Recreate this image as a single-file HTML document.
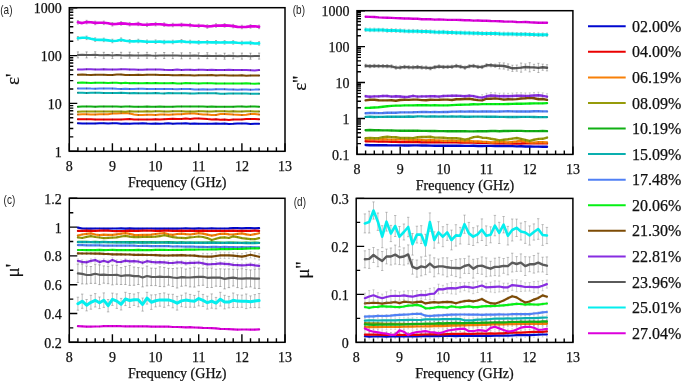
<!DOCTYPE html>
<html><head><meta charset="utf-8"><style>
html,body{margin:0;padding:0;background:#fff;}
svg{display:block;will-change:transform;}
.t{font-family:"Liberation Serif",serif;font-size:14px;fill:#111;stroke:#111;stroke-width:0.25px;}
.s{font-family:"Liberation Sans",sans-serif;font-size:12.6px;fill:#222;}
.yl{font-family:"Liberation Serif",serif;font-size:19px;fill:#111;stroke:#111;stroke-width:0.2px;}
.lg{font-family:"Liberation Serif",serif;font-size:16px;fill:#111;stroke:#111;stroke-width:0.25px;}
</style></head><body>
<svg width="685" height="381" viewBox="0 0 685 381">
<rect width="685" height="381" fill="#fff"/>
<rect x="69.3" y="7.7" width="215.7" height="143.6" fill="none" stroke="#000" stroke-width="1.5"/>
<path d="M69.3,151.3v-8M77.9,151.3v-4M86.6,151.3v-4M95.2,151.3v-4M103.8,151.3v-4M112.4,151.3v-8M121.1,151.3v-4M129.7,151.3v-4M138.3,151.3v-4M147.0,151.3v-4M155.6,151.3v-8M164.2,151.3v-4M172.8,151.3v-4M181.5,151.3v-4M190.1,151.3v-4M198.7,151.3v-8M207.3,151.3v-4M216.0,151.3v-4M224.6,151.3v-4M233.2,151.3v-4M241.9,151.3v-8M250.5,151.3v-4M259.1,151.3v-4M267.7,151.3v-4M276.4,151.3v-4M285.0,151.3v-8" stroke="#000" stroke-width="1.4"/>
<text x="69.3" y="171.3" class="t" text-anchor="middle">8</text>
<text x="112.4" y="171.3" class="t" text-anchor="middle">9</text>
<text x="155.6" y="171.3" class="t" text-anchor="middle">10</text>
<text x="198.7" y="171.3" class="t" text-anchor="middle">11</text>
<text x="241.9" y="171.3" class="t" text-anchor="middle">12</text>
<text x="285.0" y="171.3" class="t" text-anchor="middle">13</text>
<text x="177.2" y="187.3" class="t" text-anchor="middle">Frequency (GHz)</text>
<path d="M69.3,136.9h4M69.3,128.5h4M69.3,122.5h4M69.3,117.8h4M69.3,114.1h4M69.3,110.8h4M69.3,108.1h4M69.3,105.6h4M69.3,89.0h4M69.3,80.6h4M69.3,74.6h4M69.3,70.0h4M69.3,66.2h4M69.3,63.0h4M69.3,60.2h4M69.3,57.8h4M69.3,41.2h4M69.3,32.7h4M69.3,26.7h4M69.3,22.1h4M69.3,18.3h4M69.3,15.1h4M69.3,12.3h4M69.3,9.9h4M69.3,151.3h8M69.3,103.4h8M69.3,55.6h8M69.3,7.7h8" stroke="#000" stroke-width="1.4"/>
<text x="61.8" y="156.8" class="t" text-anchor="end">1</text>
<text x="61.8" y="108.9" class="t" text-anchor="end">10</text>
<text x="61.8" y="61.1" class="t" text-anchor="end">100</text>
<text x="61.8" y="13.2" class="t" text-anchor="end">1000</text>
<polyline points="77.9,123.3 82.2,123.4 86.6,123.4 90.9,123.5 95.2,123.5 99.5,123.2 103.8,123.2 108.1,123.6 112.4,123.3 116.8,123.3 121.1,123.7 125.4,123.5 129.7,123.7 134.0,123.5 138.3,123.6 142.6,123.3 147.0,123.6 151.3,123.7 155.6,123.5 159.9,123.7 164.2,123.6 168.5,123.3 172.8,123.7 177.1,123.6 181.5,123.5 185.8,123.3 190.1,123.8 194.4,123.6 198.7,123.7 203.0,123.8 207.3,123.7 211.7,123.8 216.0,123.6 220.3,123.8 224.6,123.6 228.9,123.9 233.2,123.8 237.5,123.5 241.9,123.5 246.2,123.5 250.5,123.9 254.8,123.7 259.1,123.8" fill="none" stroke="#0008d0" stroke-width="2.0" stroke-linejoin="round" stroke-linecap="round" />
<path d="M77.9,122.4V124.2M86.6,122.5V124.3M95.2,122.6V124.4M103.8,122.3V124.1M112.4,122.4V124.2M121.1,122.8V124.6M129.7,122.8V124.6M138.3,122.7V124.5M147.0,122.7V124.5M155.6,122.6V124.4M164.2,122.7V124.5M172.8,122.8V124.6M181.5,122.6V124.4M190.1,122.9V124.7M198.7,122.8V124.6M207.3,122.8V124.6M216.0,122.7V124.5M224.6,122.7V124.5M233.2,122.9V124.7M241.9,122.6V124.4M250.5,123.0V124.8M259.1,122.9V124.7" stroke="#222" stroke-width="0.9" fill="none" opacity="0.45"/>
<polyline points="77.9,119.2 82.2,119.3 86.6,119.3 90.9,119.3 95.2,119.5 99.5,119.5 103.8,119.6 108.1,119.5 112.4,119.5 116.8,119.4 121.1,119.5 125.4,119.3 129.7,119.1 134.0,119.5 138.3,119.6 142.6,119.6 147.0,119.4 151.3,119.5 155.6,119.2 159.9,119.4 164.2,119.2 168.5,119.0 172.8,118.8 177.1,119.1 181.5,119.1 185.8,118.6 190.1,118.9 194.4,118.6 198.7,118.4 203.0,118.7 207.3,119.1 211.7,119.4 216.0,119.2 220.3,119.7 224.6,119.6 228.9,120.1 233.2,119.6 237.5,119.6 241.9,119.4 246.2,118.9 250.5,118.9 254.8,119.0 259.1,119.3" fill="none" stroke="#ea0000" stroke-width="2.0" stroke-linejoin="round" stroke-linecap="round" />
<path d="M77.9,118.3V120.1M86.6,118.4V120.2M95.2,118.6V120.4M103.8,118.7V120.5M112.4,118.6V120.4M121.1,118.6V120.4M129.7,118.2V120.0M138.3,118.7V120.5M147.0,118.5V120.3M155.6,118.3V120.1M164.2,118.3V120.1M172.8,117.9V119.7M181.5,118.2V120.0M190.1,118.0V119.8M198.7,117.5V119.3M207.3,118.2V120.0M216.0,118.3V120.1M224.6,118.7V120.5M233.2,118.7V120.5M241.9,118.5V120.3M250.5,118.0V119.8M259.1,118.4V120.2" stroke="#222" stroke-width="0.9" fill="none" opacity="0.45"/>
<polyline points="77.9,114.5 82.2,114.3 86.6,114.3 90.9,114.5 95.2,114.6 99.5,114.3 103.8,114.3 108.1,114.3 112.4,113.5 116.8,113.5 121.1,113.2 125.4,113.1 129.7,113.5 134.0,114.4 138.3,115.1 142.6,114.9 147.0,114.8 151.3,114.8 155.6,114.9 159.9,114.6 164.2,114.6 168.5,114.7 172.8,114.5 177.1,114.3 181.5,114.3 185.8,113.8 190.1,113.6 194.4,113.6 198.7,114.1 203.0,114.4 207.3,114.4 211.7,114.9 216.0,114.9 220.3,114.1 224.6,114.1 228.9,114.3 233.2,114.6 237.5,114.7 241.9,115.1 246.2,114.8 250.5,114.1 254.8,114.1 259.1,114.6" fill="none" stroke="#f88008" stroke-width="2.0" stroke-linejoin="round" stroke-linecap="round" />
<path d="M77.9,113.6V115.4M86.6,113.4V115.2M95.2,113.7V115.5M103.8,113.4V115.2M112.4,112.6V114.4M121.1,112.3V114.1M129.7,112.6V114.4M138.3,114.2V116.0M147.0,113.9V115.7M155.6,114.0V115.8M164.2,113.7V115.5M172.8,113.6V115.4M181.5,113.4V115.2M190.1,112.7V114.5M198.7,113.2V115.0M207.3,113.5V115.3M216.0,114.0V115.8M224.6,113.2V115.0M233.2,113.7V115.5M241.9,114.2V116.0M250.5,113.2V115.0M259.1,113.7V115.5" stroke="#222" stroke-width="0.9" fill="none" opacity="0.45"/>
<polyline points="77.9,111.8 82.2,111.5 86.6,111.6 90.9,111.6 95.2,111.5 99.5,111.5 103.8,111.5 108.1,111.5 112.4,111.6 116.8,111.4 121.1,111.5 125.4,111.7 129.7,111.3 134.0,111.5 138.3,111.6 142.6,111.4 147.0,111.3 151.3,111.6 155.6,111.3 159.9,111.3 164.2,111.4 168.5,111.5 172.8,111.2 177.1,111.3 181.5,111.3 185.8,111.6 190.1,111.4 194.4,111.6 198.7,111.2 203.0,111.3 207.3,111.5 211.7,111.6 216.0,111.3 220.3,111.2 224.6,111.2 228.9,111.4 233.2,111.2 237.5,111.5 241.9,111.5 246.2,111.2 250.5,111.2 254.8,111.5 259.1,111.4" fill="none" stroke="#969b0a" stroke-width="2.0" stroke-linejoin="round" stroke-linecap="round" />
<path d="M77.9,110.9V112.7M86.6,110.7V112.5M95.2,110.6V112.4M103.8,110.6V112.4M112.4,110.7V112.5M121.1,110.6V112.4M129.7,110.4V112.2M138.3,110.7V112.5M147.0,110.4V112.2M155.6,110.4V112.2M164.2,110.5V112.3M172.8,110.3V112.1M181.5,110.4V112.2M190.1,110.5V112.3M198.7,110.3V112.1M207.3,110.6V112.4M216.0,110.4V112.2M224.6,110.3V112.1M233.2,110.3V112.1M241.9,110.6V112.4M250.5,110.3V112.1M259.1,110.5V112.3" stroke="#222" stroke-width="0.9" fill="none" opacity="0.45"/>
<polyline points="77.9,106.8 82.2,106.5 86.6,106.4 90.9,106.5 95.2,106.7 99.5,106.5 103.8,106.5 108.1,106.6 112.4,106.6 116.8,106.6 121.1,106.8 125.4,106.4 129.7,106.4 134.0,106.8 138.3,106.8 142.6,106.8 147.0,106.6 151.3,106.8 155.6,106.8 159.9,106.5 164.2,106.7 168.5,106.8 172.8,106.7 177.1,106.6 181.5,106.5 185.8,106.5 190.1,106.5 194.4,106.4 198.7,106.6 203.0,106.5 207.3,106.8 211.7,106.4 216.0,106.8 220.3,106.7 224.6,106.8 228.9,106.8 233.2,106.8 237.5,106.6 241.9,106.4 246.2,106.7 250.5,106.4 254.8,106.5 259.1,106.7" fill="none" stroke="#10b014" stroke-width="2.0" stroke-linejoin="round" stroke-linecap="round" />
<path d="M77.9,105.9V107.7M86.6,105.5V107.3M95.2,105.8V107.6M103.8,105.6V107.4M112.4,105.7V107.5M121.1,105.9V107.7M129.7,105.5V107.3M138.3,105.9V107.7M147.0,105.7V107.5M155.6,105.9V107.7M164.2,105.8V107.6M172.8,105.8V107.6M181.5,105.6V107.4M190.1,105.6V107.4M198.7,105.7V107.5M207.3,105.9V107.7M216.0,105.9V107.7M224.6,105.9V107.7M233.2,105.9V107.7M241.9,105.5V107.3M250.5,105.5V107.3M259.1,105.8V107.6" stroke="#222" stroke-width="0.9" fill="none" opacity="0.45"/>
<polyline points="77.9,92.7 82.2,92.7 86.6,93.0 90.9,92.8 95.2,92.7 99.5,92.7 103.8,93.0 108.1,92.9 112.4,93.1 116.8,92.9 121.1,92.8 125.4,93.0 129.7,93.2 134.0,92.9 138.3,93.2 142.6,93.3 147.0,93.3 151.3,93.3 155.6,92.9 159.9,93.3 164.2,93.4 168.5,93.0 172.8,93.2 177.1,93.2 181.5,93.3 185.8,93.3 190.1,93.4 194.4,93.5 198.7,93.2 203.0,93.2 207.3,93.3 211.7,93.3 216.0,93.3 220.3,93.8 224.6,93.8 228.9,93.4 233.2,93.6 237.5,93.6 241.9,93.6 246.2,93.6 250.5,93.8 254.8,93.8 259.1,93.7" fill="none" stroke="#0aafaf" stroke-width="2.0" stroke-linejoin="round" stroke-linecap="round" />
<path d="M77.9,91.8V93.6M86.6,92.1V93.9M95.2,91.8V93.6M103.8,92.1V93.9M112.4,92.2V94.0M121.1,91.9V93.7M129.7,92.3V94.1M138.3,92.3V94.1M147.0,92.4V94.2M155.6,92.0V93.8M164.2,92.5V94.3M172.8,92.3V94.1M181.5,92.4V94.2M190.1,92.5V94.3M198.7,92.3V94.1M207.3,92.4V94.2M216.0,92.4V94.2M224.6,92.9V94.7M233.2,92.7V94.5M241.9,92.7V94.5M250.5,92.9V94.7M259.1,92.8V94.6" stroke="#222" stroke-width="0.9" fill="none" opacity="0.45"/>
<polyline points="77.9,88.4 82.2,88.4 86.6,88.4 90.9,88.6 95.2,88.7 99.5,88.6 103.8,88.5 108.1,88.5 112.4,88.6 116.8,88.8 121.1,88.9 125.4,88.7 129.7,89.0 134.0,88.9 138.3,88.8 142.6,88.8 147.0,88.9 151.3,89.0 155.6,88.9 159.9,89.1 164.2,89.0 168.5,88.9 172.8,89.1 177.1,89.2 181.5,88.9 185.8,89.1 190.1,89.1 194.4,89.4 198.7,89.4 203.0,89.2 207.3,89.5 211.7,89.5 216.0,89.2 220.3,89.3 224.6,89.2 228.9,89.6 233.2,89.5 237.5,89.7 241.9,89.6 246.2,89.6 250.5,89.7 254.8,89.6 259.1,89.4" fill="none" stroke="#5080f5" stroke-width="2.0" stroke-linejoin="round" stroke-linecap="round" />
<path d="M77.9,87.5V89.3M86.6,87.5V89.3M95.2,87.8V89.6M103.8,87.6V89.4M112.4,87.7V89.5M121.1,88.0V89.8M129.7,88.1V89.9M138.3,87.9V89.7M147.0,88.0V89.8M155.6,88.0V89.8M164.2,88.1V89.9M172.8,88.2V90.0M181.5,88.0V89.8M190.1,88.2V90.0M198.7,88.5V90.3M207.3,88.6V90.4M216.0,88.3V90.1M224.6,88.3V90.1M233.2,88.6V90.4M241.9,88.7V90.5M250.5,88.8V90.6M259.1,88.5V90.3" stroke="#222" stroke-width="0.9" fill="none" opacity="0.45"/>
<polyline points="77.9,82.8 82.2,82.6 86.6,82.7 90.9,83.0 95.2,82.7 99.5,82.7 103.8,82.7 108.1,83.1 112.4,82.8 116.8,82.7 121.1,83.2 125.4,82.8 129.7,83.2 134.0,83.1 138.3,83.2 142.6,83.3 147.0,83.1 151.3,83.3 155.6,82.9 159.9,83.3 164.2,83.2 168.5,83.3 172.8,83.0 177.1,83.4 181.5,83.5 185.8,83.1 190.1,83.2 194.4,83.3 198.7,83.5 203.0,83.2 207.3,83.2 211.7,83.3 216.0,83.5 220.3,83.6 224.6,83.4 228.9,83.4 233.2,83.4 237.5,83.4 241.9,83.5 246.2,83.3 250.5,83.6 254.8,83.8 259.1,83.6" fill="none" stroke="#05f014" stroke-width="2.0" stroke-linejoin="round" stroke-linecap="round" />
<path d="M77.9,81.9V83.7M86.6,81.8V83.6M95.2,81.8V83.6M103.8,81.8V83.6M112.4,81.9V83.7M121.1,82.3V84.1M129.7,82.3V84.1M138.3,82.3V84.1M147.0,82.2V84.0M155.6,82.0V83.8M164.2,82.3V84.1M172.8,82.1V83.9M181.5,82.6V84.4M190.1,82.3V84.1M198.7,82.6V84.4M207.3,82.3V84.1M216.0,82.6V84.4M224.6,82.5V84.3M233.2,82.5V84.3M241.9,82.6V84.4M250.5,82.7V84.5M259.1,82.7V84.5" stroke="#222" stroke-width="0.9" fill="none" opacity="0.45"/>
<polyline points="77.9,74.8 82.2,74.5 86.6,74.8 90.9,74.9 95.2,74.8 99.5,74.8 103.8,74.8 108.1,74.9 112.4,75.0 116.8,74.6 121.1,74.6 125.4,75.0 129.7,75.1 134.0,74.9 138.3,74.8 142.6,75.0 147.0,74.7 151.3,74.8 155.6,74.8 159.9,75.0 164.2,74.9 168.5,74.9 172.8,75.2 177.1,75.3 181.5,75.0 185.8,75.3 190.1,75.2 194.4,75.4 198.7,75.3 203.0,75.2 207.3,75.2 211.7,75.1 216.0,75.4 220.3,75.3 224.6,75.3 228.9,75.4 233.2,75.4 237.5,75.6 241.9,75.3 246.2,75.8 250.5,75.5 254.8,75.6 259.1,75.6" fill="none" stroke="#7d4b05" stroke-width="2.0" stroke-linejoin="round" stroke-linecap="round" />
<path d="M77.9,73.9V75.7M86.6,73.9V75.7M95.2,73.9V75.7M103.8,73.9V75.7M112.4,74.1V75.9M121.1,73.7V75.5M129.7,74.2V76.0M138.3,73.9V75.7M147.0,73.8V75.6M155.6,73.9V75.7M164.2,74.0V75.8M172.8,74.3V76.1M181.5,74.1V75.9M190.1,74.3V76.1M198.7,74.4V76.2M207.3,74.3V76.1M216.0,74.5V76.3M224.6,74.4V76.2M233.2,74.5V76.3M241.9,74.4V76.2M250.5,74.6V76.4M259.1,74.7V76.5" stroke="#222" stroke-width="0.9" fill="none" opacity="0.45"/>
<polyline points="77.9,69.4 82.2,69.4 86.6,69.3 90.9,69.3 95.2,69.4 99.5,69.5 103.8,69.3 108.1,69.5 112.4,69.6 116.8,69.4 121.1,69.3 125.4,69.3 129.7,69.6 134.0,69.6 138.3,69.8 142.6,69.7 147.0,69.5 151.3,69.5 155.6,69.5 159.9,69.5 164.2,69.8 168.5,69.9 172.8,69.9 177.1,69.6 181.5,70.0 185.8,69.7 190.1,69.8 194.4,70.0 198.7,69.7 203.0,69.7 207.3,70.1 211.7,69.8 216.0,69.9 220.3,70.0 224.6,70.1 228.9,69.8 233.2,70.0 237.5,70.0 241.9,70.1 246.2,70.0 250.5,70.2 254.8,70.4 259.1,70.1" fill="none" stroke="#872de1" stroke-width="2.0" stroke-linejoin="round" stroke-linecap="round" />
<path d="M77.9,68.5V70.3M86.6,68.4V70.2M95.2,68.5V70.3M103.8,68.4V70.2M112.4,68.7V70.5M121.1,68.4V70.2M129.7,68.7V70.5M138.3,68.9V70.7M147.0,68.6V70.4M155.6,68.6V70.4M164.2,68.9V70.7M172.8,69.0V70.8M181.5,69.1V70.9M190.1,68.9V70.7M198.7,68.8V70.6M207.3,69.2V71.0M216.0,69.0V70.8M224.6,69.2V71.0M233.2,69.1V70.9M241.9,69.2V71.0M250.5,69.3V71.1M259.1,69.2V71.0" stroke="#222" stroke-width="0.9" fill="none" opacity="0.45"/>
<path d="M77.9,51.9V57.9M76.8,51.9h2.2M76.8,57.9h2.2M86.6,51.9V57.9M85.5,51.9h2.2M85.5,57.9h2.2M95.2,51.8V57.8M94.1,51.8h2.2M94.1,57.8h2.2M103.8,52.3V58.3M102.7,52.3h2.2M102.7,58.3h2.2M112.4,52.4V58.4M111.3,52.4h2.2M111.3,58.4h2.2M121.1,52.3V58.3M120.0,52.3h2.2M120.0,58.3h2.2M129.7,52.2V58.2M128.6,52.2h2.2M128.6,58.2h2.2M138.3,52.4V58.4M137.2,52.4h2.2M137.2,58.4h2.2M147.0,52.3V58.3M145.9,52.3h2.2M145.9,58.3h2.2M155.6,52.7V58.7M154.5,52.7h2.2M154.5,58.7h2.2M164.2,52.5V58.5M163.1,52.5h2.2M163.1,58.5h2.2M172.8,52.6V58.6M171.7,52.6h2.2M171.7,58.6h2.2M181.5,52.8V58.8M180.4,52.8h2.2M180.4,58.8h2.2M190.1,52.7V58.7M189.0,52.7h2.2M189.0,58.7h2.2M198.7,52.8V58.8M197.6,52.8h2.2M197.6,58.8h2.2M207.3,52.7V58.7M206.2,52.7h2.2M206.2,58.7h2.2M216.0,53.0V59.0M214.9,53.0h2.2M214.9,59.0h2.2M224.6,53.2V59.2M223.5,53.2h2.2M223.5,59.2h2.2M233.2,52.9V58.9M232.1,52.9h2.2M232.1,58.9h2.2M241.9,53.1V59.1M240.8,53.1h2.2M240.8,59.1h2.2M250.5,53.2V59.2M249.4,53.2h2.2M249.4,59.2h2.2M259.1,53.1V59.1M258.0,53.1h2.2M258.0,59.1h2.2" stroke="#444" stroke-width="0.6" fill="none" opacity="0.7"/>
<polyline points="77.9,54.9 82.2,54.7 86.6,54.9 90.9,55.1 95.2,54.8 99.5,55.3 103.8,55.3 108.1,54.9 112.4,55.4 116.8,55.1 121.1,55.3 125.4,55.4 129.7,55.2 134.0,55.4 138.3,55.4 142.6,55.5 147.0,55.3 151.3,55.6 155.6,55.7 159.9,55.6 164.2,55.5 168.5,55.4 172.8,55.6 177.1,55.5 181.5,55.8 185.8,55.8 190.1,55.7 194.4,55.6 198.7,55.8 203.0,55.9 207.3,55.7 211.7,56.1 216.0,56.0 220.3,55.7 224.6,56.2 228.9,55.8 233.2,55.9 237.5,56.2 241.9,56.1 246.2,56.1 250.5,56.2 254.8,56.1 259.1,56.1" fill="none" stroke="#5a5a5a" stroke-width="2.0" stroke-linejoin="round" stroke-linecap="round" />
<path d="M77.9,36.5V40.1M76.9,36.5h2.0M76.9,40.1h2.0M86.6,36.0V39.6M85.6,36.0h2.0M85.6,39.6h2.0M95.2,37.8V41.4M94.2,37.8h2.0M94.2,41.4h2.0M103.8,38.1V41.7M102.8,38.1h2.0M102.8,41.7h2.0M112.4,39.2V42.8M111.4,39.2h2.0M111.4,42.8h2.0M121.1,37.9V41.5M120.1,37.9h2.0M120.1,41.5h2.0M129.7,39.5V43.1M128.7,39.5h2.0M128.7,43.1h2.0M138.3,39.2V42.8M137.3,39.2h2.0M137.3,42.8h2.0M147.0,40.0V43.6M146.0,40.0h2.0M146.0,43.6h2.0M155.6,39.9V43.5M154.6,39.9h2.0M154.6,43.5h2.0M164.2,40.3V43.9M163.2,40.3h2.0M163.2,43.9h2.0M172.8,40.2V43.8M171.8,40.2h2.0M171.8,43.8h2.0M181.5,39.5V43.1M180.5,39.5h2.0M180.5,43.1h2.0M190.1,40.2V43.8M189.1,40.2h2.0M189.1,43.8h2.0M198.7,40.6V44.2M197.7,40.6h2.0M197.7,44.2h2.0M207.3,40.5V44.1M206.3,40.5h2.0M206.3,44.1h2.0M216.0,40.5V44.1M215.0,40.5h2.0M215.0,44.1h2.0M224.6,40.6V44.2M223.6,40.6h2.0M223.6,44.2h2.0M233.2,40.6V44.2M232.2,40.6h2.0M232.2,44.2h2.0M241.9,41.2V44.8M240.9,41.2h2.0M240.9,44.8h2.0M250.5,41.1V44.7M249.5,41.1h2.0M249.5,44.7h2.0M259.1,41.6V45.2M258.1,41.6h2.0M258.1,45.2h2.0" stroke="#444" stroke-width="0.6" fill="none" opacity="0.6"/>
<polyline points="77.9,38.3 82.2,37.8 86.6,37.8 90.9,38.8 95.2,39.6 99.5,39.9 103.8,39.9 108.1,40.4 112.4,41.0 116.8,40.7 121.1,39.7 125.4,40.8 129.7,41.3 134.0,41.4 138.3,41.0 142.6,41.4 147.0,41.8 151.3,41.7 155.6,41.7 159.9,41.6 164.2,42.1 168.5,41.8 172.8,42.0 177.1,41.6 181.5,41.3 185.8,41.9 190.1,42.0 194.4,42.1 198.7,42.4 203.0,42.3 207.3,42.3 211.7,42.4 216.0,42.3 220.3,42.5 224.6,42.4 228.9,42.5 233.2,42.4 237.5,42.8 241.9,43.0 246.2,42.8 250.5,42.9 254.8,43.5 259.1,43.4" fill="none" stroke="#05eeee" stroke-width="2.6" stroke-linejoin="round" stroke-linecap="round" />
<path d="M77.9,20.5V24.1M76.9,20.5h2.0M76.9,24.1h2.0M86.6,20.3V23.9M85.6,20.3h2.0M85.6,23.9h2.0M95.2,21.1V24.7M94.2,21.1h2.0M94.2,24.7h2.0M103.8,21.0V24.6M102.8,21.0h2.0M102.8,24.6h2.0M112.4,22.5V26.1M111.4,22.5h2.0M111.4,26.1h2.0M121.1,21.6V25.2M120.1,21.6h2.0M120.1,25.2h2.0M129.7,22.4V26.0M128.7,22.4h2.0M128.7,26.0h2.0M138.3,22.1V25.7M137.3,22.1h2.0M137.3,25.7h2.0M147.0,23.0V26.6M146.0,23.0h2.0M146.0,26.6h2.0M155.6,22.4V26.0M154.6,22.4h2.0M154.6,26.0h2.0M164.2,22.8V26.4M163.2,22.8h2.0M163.2,26.4h2.0M172.8,23.2V26.8M171.8,23.2h2.0M171.8,26.8h2.0M181.5,23.1V26.7M180.5,23.1h2.0M180.5,26.7h2.0M190.1,23.4V27.0M189.1,23.4h2.0M189.1,27.0h2.0M198.7,24.0V27.6M197.7,24.0h2.0M197.7,27.6h2.0M207.3,24.7V28.3M206.3,24.7h2.0M206.3,28.3h2.0M216.0,23.7V27.3M215.0,23.7h2.0M215.0,27.3h2.0M224.6,23.6V27.2M223.6,23.6h2.0M223.6,27.2h2.0M233.2,24.3V27.9M232.2,24.3h2.0M232.2,27.9h2.0M241.9,25.2V28.8M240.9,25.2h2.0M240.9,28.8h2.0M250.5,24.6V28.2M249.5,24.6h2.0M249.5,28.2h2.0M259.1,25.1V28.7M258.1,25.1h2.0M258.1,28.7h2.0" stroke="#444" stroke-width="0.6" fill="none" opacity="0.6"/>
<polyline points="77.9,22.3 82.2,23.1 86.6,22.1 90.9,22.2 95.2,22.9 99.5,22.8 103.8,22.8 108.1,23.2 112.4,24.3 116.8,23.9 121.1,23.4 125.4,23.6 129.7,24.2 134.0,24.3 138.3,23.9 142.6,24.7 147.0,24.8 151.3,24.4 155.6,24.2 159.9,24.3 164.2,24.6 168.5,25.2 172.8,25.0 177.1,25.0 181.5,24.9 185.8,25.0 190.1,25.2 194.4,25.7 198.7,25.8 203.0,25.7 207.3,26.5 211.7,26.1 216.0,25.5 220.3,25.6 224.6,25.4 228.9,25.6 233.2,26.1 237.5,26.9 241.9,27.0 246.2,26.9 250.5,26.4 254.8,26.3 259.1,26.9" fill="none" stroke="#dc00dc" stroke-width="2.6" stroke-linejoin="round" stroke-linecap="round" />
<rect x="357.0" y="10.7" width="215.9" height="143.7" fill="none" stroke="#000" stroke-width="1.5"/>
<path d="M357.0,154.4v-8M365.6,154.4v-4M374.3,154.4v-4M382.9,154.4v-4M391.5,154.4v-4M400.2,154.4v-8M408.8,154.4v-4M417.5,154.4v-4M426.1,154.4v-4M434.7,154.4v-4M443.4,154.4v-8M452.0,154.4v-4M460.6,154.4v-4M469.3,154.4v-4M477.9,154.4v-4M486.5,154.4v-8M495.2,154.4v-4M503.8,154.4v-4M512.4,154.4v-4M521.1,154.4v-4M529.7,154.4v-8M538.4,154.4v-4M547.0,154.4v-4M555.6,154.4v-4M564.3,154.4v-4M572.9,154.4v-8" stroke="#000" stroke-width="1.4"/>
<text x="357.0" y="174.4" class="t" text-anchor="middle">8</text>
<text x="400.2" y="174.4" class="t" text-anchor="middle">9</text>
<text x="443.4" y="174.4" class="t" text-anchor="middle">10</text>
<text x="486.5" y="174.4" class="t" text-anchor="middle">11</text>
<text x="529.7" y="174.4" class="t" text-anchor="middle">12</text>
<text x="572.9" y="174.4" class="t" text-anchor="middle">13</text>
<text x="464.9" y="190.4" class="t" text-anchor="middle">Frequency (GHz)</text>
<path d="M357.0,143.6h4M357.0,137.3h4M357.0,132.8h4M357.0,129.3h4M357.0,126.4h4M357.0,124.0h4M357.0,122.0h4M357.0,120.1h4M357.0,107.7h4M357.0,101.3h4M357.0,96.8h4M357.0,93.4h4M357.0,90.5h4M357.0,88.1h4M357.0,86.0h4M357.0,84.2h4M357.0,71.7h4M357.0,65.4h4M357.0,60.9h4M357.0,57.4h4M357.0,54.6h4M357.0,52.2h4M357.0,50.1h4M357.0,48.3h4M357.0,35.8h4M357.0,29.5h4M357.0,25.0h4M357.0,21.5h4M357.0,18.7h4M357.0,16.3h4M357.0,14.2h4M357.0,12.3h4M357.0,154.4h8M357.0,118.5h8M357.0,82.5h8M357.0,46.6h8M357.0,10.7h8" stroke="#000" stroke-width="1.4"/>
<text x="349.5" y="159.9" class="t" text-anchor="end">0.1</text>
<text x="349.5" y="124.0" class="t" text-anchor="end">1</text>
<text x="349.5" y="88.0" class="t" text-anchor="end">10</text>
<text x="349.5" y="52.1" class="t" text-anchor="end">100</text>
<text x="349.5" y="16.2" class="t" text-anchor="end">1000</text>
<polyline points="365.6,145.0 370.0,145.2 374.3,145.2 378.6,145.2 382.9,145.1 387.2,145.3 391.5,145.4 395.9,145.4 400.2,145.4 404.5,145.5 408.8,145.5 413.1,145.4 417.5,145.4 421.8,145.5 426.1,145.5 430.4,145.6 434.7,145.7 439.0,145.8 443.4,145.8 447.7,145.7 452.0,145.8 456.3,145.8 460.6,145.8 464.9,145.9 469.3,145.9 473.6,145.8 477.9,146.0 482.2,146.0 486.5,145.9 490.9,145.9 495.2,146.0 499.5,146.0 503.8,146.0 508.1,146.0 512.4,146.1 516.8,146.4 521.1,146.3 525.4,146.5 529.7,146.5 534.0,146.6 538.4,146.6 542.7,146.8 547.0,146.8" fill="none" stroke="#0008d0" stroke-width="2.4" stroke-linejoin="round" stroke-linecap="round" />
<path d="M365.6,144.1V145.9M370.0,144.3V146.1M374.3,144.3V146.1M378.6,144.3V146.1M382.9,144.2V146.0M387.2,144.4V146.2M391.5,144.5V146.3M395.9,144.5V146.3M400.2,144.5V146.3M404.5,144.6V146.4M408.8,144.6V146.4M413.1,144.5V146.3M417.5,144.5V146.3M421.8,144.6V146.4M426.1,144.6V146.4M430.4,144.7V146.5M434.7,144.8V146.6M439.0,144.9V146.7M443.4,144.9V146.7M447.7,144.8V146.6M452.0,144.9V146.7M456.3,144.9V146.7M460.6,144.9V146.7M464.9,145.0V146.8M469.3,145.0V146.8M473.6,144.9V146.7M477.9,145.1V146.9M482.2,145.1V146.9M486.5,145.0V146.8M490.9,145.0V146.8M495.2,145.1V146.9M499.5,145.1V146.9M503.8,145.1V146.9M508.1,145.1V146.9M512.4,145.2V147.0M516.8,145.5V147.3M521.1,145.4V147.2M525.4,145.6V147.4M529.7,145.6V147.4M534.0,145.7V147.5M538.4,145.7V147.5M542.7,145.9V147.7M547.0,145.9V147.7" stroke="#222" stroke-width="0.9" fill="none" opacity="0.25"/>
<polyline points="365.6,141.3 370.0,141.4 374.3,141.4 378.6,141.6 382.9,141.5 387.2,141.6 391.5,141.8 395.9,141.8 400.2,142.0 404.5,141.8 408.8,142.0 413.1,142.1 417.5,142.0 421.8,142.4 426.1,142.2 430.4,142.1 434.7,142.3 439.0,142.2 443.4,142.4 447.7,142.3 452.0,142.3 456.3,142.3 460.6,142.5 464.9,142.4 469.3,142.6 473.6,142.6 477.9,142.9 482.2,142.8 486.5,142.9 490.9,143.1 495.2,143.3 499.5,143.4 503.8,143.4 508.1,143.3 512.4,143.5 516.8,143.6 521.1,143.5 525.4,143.3 529.7,143.3 534.0,143.3 538.4,143.4 542.7,143.4 547.0,143.4" fill="none" stroke="#ea0000" stroke-width="2.4" stroke-linejoin="round" stroke-linecap="round" />
<path d="M365.6,140.4V142.2M370.0,140.5V142.3M374.3,140.5V142.3M378.6,140.7V142.5M382.9,140.6V142.4M387.2,140.7V142.5M391.5,140.9V142.7M395.9,140.9V142.7M400.2,141.1V142.9M404.5,140.9V142.7M408.8,141.1V142.9M413.1,141.2V143.0M417.5,141.1V142.9M421.8,141.5V143.3M426.1,141.3V143.1M430.4,141.2V143.0M434.7,141.4V143.2M439.0,141.3V143.1M443.4,141.5V143.3M447.7,141.4V143.2M452.0,141.4V143.2M456.3,141.4V143.2M460.6,141.6V143.4M464.9,141.5V143.3M469.3,141.7V143.5M473.6,141.7V143.5M477.9,142.0V143.8M482.2,141.9V143.7M486.5,142.0V143.8M490.9,142.2V144.0M495.2,142.4V144.2M499.5,142.5V144.3M503.8,142.5V144.3M508.1,142.4V144.2M512.4,142.6V144.4M516.8,142.7V144.5M521.1,142.6V144.4M525.4,142.4V144.2M529.7,142.4V144.2M534.0,142.4V144.2M538.4,142.5V144.3M542.7,142.5V144.3M547.0,142.5V144.3" stroke="#222" stroke-width="0.9" fill="none" opacity="0.25"/>
<polyline points="365.6,139.0 370.0,139.3 374.3,138.8 378.6,139.4 382.9,139.1 387.2,139.4 391.5,139.6 395.9,139.6 400.2,139.1 404.5,139.4 408.8,139.7 413.1,140.1 417.5,139.6 421.8,139.9 426.1,140.4 430.4,140.0 434.7,140.3 439.0,140.4 443.4,140.7 447.7,140.9 452.0,140.5 456.3,140.9 460.6,141.0 464.9,141.2 469.3,141.0 473.6,141.5 477.9,141.4 482.2,141.7 486.5,141.9 490.9,142.5 495.2,142.3 499.5,142.1 503.8,142.1 508.1,142.5 512.4,142.0 516.8,141.5 521.1,140.8 525.4,141.7 529.7,142.2 534.0,142.6 538.4,142.1 542.7,142.3 547.0,142.5" fill="none" stroke="#f88008" stroke-width="2.4" stroke-linejoin="round" stroke-linecap="round" />
<path d="M365.6,138.1V139.9M370.0,138.4V140.2M374.3,137.9V139.7M378.6,138.5V140.3M382.9,138.2V140.0M387.2,138.5V140.3M391.5,138.7V140.5M395.9,138.7V140.5M400.2,138.2V140.0M404.5,138.5V140.3M408.8,138.8V140.6M413.1,139.2V141.0M417.5,138.7V140.5M421.8,139.0V140.8M426.1,139.5V141.3M430.4,139.1V140.9M434.7,139.4V141.2M439.0,139.5V141.3M443.4,139.8V141.6M447.7,140.0V141.8M452.0,139.6V141.4M456.3,140.0V141.8M460.6,140.1V141.9M464.9,140.3V142.1M469.3,140.1V141.9M473.6,140.6V142.4M477.9,140.5V142.3M482.2,140.8V142.6M486.5,141.0V142.8M490.9,141.6V143.4M495.2,141.4V143.2M499.5,141.2V143.0M503.8,141.2V143.0M508.1,141.6V143.4M512.4,141.1V142.9M516.8,140.6V142.4M521.1,139.9V141.7M525.4,140.8V142.6M529.7,141.3V143.1M534.0,141.7V143.5M538.4,141.2V143.0M542.7,141.4V143.2M547.0,141.6V143.4" stroke="#222" stroke-width="0.9" fill="none" opacity="0.25"/>
<polyline points="365.6,138.1 370.0,137.9 374.3,138.2 378.6,138.2 382.9,137.1 387.2,136.8 391.5,137.1 395.9,137.2 400.2,137.9 404.5,138.0 408.8,138.0 413.1,138.1 417.5,137.3 421.8,137.0 426.1,137.0 430.4,136.8 434.7,137.6 439.0,137.6 443.4,137.8 447.7,138.3 452.0,138.1 456.3,138.2 460.6,138.8 464.9,139.6 469.3,138.7 473.6,137.1 477.9,136.6 482.2,137.7 486.5,137.9 490.9,138.8 495.2,139.5 499.5,140.4 503.8,139.8 508.1,139.3 512.4,138.6 516.8,138.0 521.1,138.9 525.4,139.8 529.7,140.9 534.0,139.7 538.4,138.9 542.7,138.8 547.0,137.6" fill="none" stroke="#969b0a" stroke-width="2.4" stroke-linejoin="round" stroke-linecap="round" />
<path d="M365.6,137.2V139.0M370.0,137.0V138.8M374.3,137.3V139.1M378.6,137.3V139.1M382.9,136.2V138.0M387.2,135.9V137.7M391.5,136.2V138.0M395.9,136.3V138.1M400.2,137.0V138.8M404.5,137.1V138.9M408.8,137.1V138.9M413.1,137.2V139.0M417.5,136.4V138.2M421.8,136.1V137.9M426.1,136.1V137.9M430.4,135.9V137.7M434.7,136.7V138.5M439.0,136.7V138.5M443.4,136.9V138.7M447.7,137.4V139.2M452.0,137.2V139.0M456.3,137.3V139.1M460.6,137.9V139.7M464.9,138.7V140.5M469.3,137.8V139.6M473.6,136.2V138.0M477.9,135.7V137.5M482.2,136.8V138.6M486.5,137.0V138.8M490.9,137.9V139.7M495.2,138.6V140.4M499.5,139.5V141.3M503.8,138.9V140.7M508.1,138.4V140.2M512.4,137.7V139.5M516.8,137.1V138.9M521.1,138.0V139.8M525.4,138.9V140.7M529.7,140.0V141.8M534.0,138.8V140.6M538.4,138.0V139.8M542.7,137.9V139.7M547.0,136.7V138.5" stroke="#222" stroke-width="0.9" fill="none" opacity="0.25"/>
<polyline points="365.6,130.2 370.0,130.0 374.3,130.2 378.6,130.2 382.9,130.4 387.2,130.4 391.5,130.5 395.9,130.6 400.2,130.7 404.5,130.6 408.8,130.7 413.1,130.7 417.5,130.7 421.8,130.9 426.1,130.9 430.4,131.0 434.7,130.9 439.0,131.1 443.4,131.1 447.7,131.2 452.0,131.1 456.3,131.2 460.6,131.3 464.9,131.3 469.3,131.4 473.6,131.4 477.9,131.2 482.2,131.2 486.5,131.2 490.9,131.0 495.2,131.0 499.5,131.2 503.8,131.0 508.1,131.0 512.4,130.9 516.8,130.9 521.1,130.9 525.4,131.1 529.7,131.1 534.0,131.1 538.4,131.1 542.7,131.0 547.0,131.1" fill="none" stroke="#10b014" stroke-width="2.4" stroke-linejoin="round" stroke-linecap="round" />
<path d="M365.6,129.3V131.1M370.0,129.1V130.9M374.3,129.3V131.1M378.6,129.3V131.1M382.9,129.5V131.3M387.2,129.5V131.3M391.5,129.6V131.4M395.9,129.7V131.5M400.2,129.8V131.6M404.5,129.7V131.5M408.8,129.8V131.6M413.1,129.8V131.6M417.5,129.8V131.6M421.8,130.0V131.8M426.1,130.0V131.8M430.4,130.1V131.9M434.7,130.0V131.8M439.0,130.2V132.0M443.4,130.2V132.0M447.7,130.3V132.1M452.0,130.2V132.0M456.3,130.3V132.1M460.6,130.4V132.2M464.9,130.4V132.2M469.3,130.5V132.3M473.6,130.5V132.3M477.9,130.3V132.1M482.2,130.3V132.1M486.5,130.3V132.1M490.9,130.1V131.9M495.2,130.1V131.9M499.5,130.3V132.1M503.8,130.1V131.9M508.1,130.1V131.9M512.4,130.0V131.8M516.8,130.0V131.8M521.1,130.0V131.8M525.4,130.2V132.0M529.7,130.2V132.0M534.0,130.2V132.0M538.4,130.2V132.0M542.7,130.1V131.9M547.0,130.2V132.0" stroke="#222" stroke-width="0.9" fill="none" opacity="0.25"/>
<polyline points="365.6,116.9 370.0,116.8 374.3,117.0 378.6,116.9 382.9,116.9 387.2,116.7 391.5,116.8 395.9,116.6 400.2,116.8 404.5,116.7 408.8,116.5 413.1,116.7 417.5,116.4 421.8,116.4 426.1,116.6 430.4,116.5 434.7,116.5 439.0,116.6 443.4,116.4 447.7,116.6 452.0,116.5 456.3,116.6 460.6,116.5 464.9,116.7 469.3,116.7 473.6,116.6 477.9,116.6 482.2,116.6 486.5,116.7 490.9,116.6 495.2,116.7 499.5,116.9 503.8,116.9 508.1,117.0 512.4,117.0 516.8,117.0 521.1,116.9 525.4,116.9 529.7,116.9 534.0,117.0 538.4,117.1 542.7,117.1 547.0,117.1" fill="none" stroke="#0aafaf" stroke-width="2.4" stroke-linejoin="round" stroke-linecap="round" />
<path d="M365.6,116.0V117.8M370.0,115.9V117.7M374.3,116.1V117.9M378.6,116.0V117.8M382.9,116.0V117.8M387.2,115.8V117.6M391.5,115.9V117.7M395.9,115.7V117.5M400.2,115.9V117.7M404.5,115.8V117.6M408.8,115.6V117.4M413.1,115.8V117.6M417.5,115.5V117.3M421.8,115.5V117.3M426.1,115.7V117.5M430.4,115.6V117.4M434.7,115.6V117.4M439.0,115.7V117.5M443.4,115.5V117.3M447.7,115.7V117.5M452.0,115.6V117.4M456.3,115.7V117.5M460.6,115.6V117.4M464.9,115.8V117.6M469.3,115.8V117.6M473.6,115.7V117.5M477.9,115.7V117.5M482.2,115.7V117.5M486.5,115.8V117.6M490.9,115.7V117.5M495.2,115.8V117.6M499.5,116.0V117.8M503.8,116.0V117.8M508.1,116.1V117.9M512.4,116.1V117.9M516.8,116.1V117.9M521.1,116.0V117.8M525.4,116.0V117.8M529.7,116.0V117.8M534.0,116.1V117.9M538.4,116.2V118.0M542.7,116.2V118.0M547.0,116.2V118.0" stroke="#222" stroke-width="0.9" fill="none" opacity="0.25"/>
<polyline points="365.6,113.3 370.0,113.0 374.3,113.0 378.6,113.1 382.9,113.0 387.2,112.7 391.5,112.6 395.9,112.7 400.2,112.4 404.5,112.4 408.8,112.4 413.1,112.3 417.5,112.1 421.8,112.0 426.1,112.0 430.4,112.1 434.7,112.0 439.0,112.1 443.4,112.0 447.7,112.0 452.0,111.6 456.3,111.6 460.6,111.5 464.9,111.6 469.3,111.5 473.6,111.4 477.9,111.6 482.2,111.4 486.5,111.5 490.9,111.4 495.2,111.6 499.5,111.5 503.8,111.4 508.1,111.3 512.4,111.4 516.8,111.5 521.1,111.4 525.4,111.5 529.7,111.5 534.0,111.3 538.4,111.2 542.7,111.4 547.0,111.4" fill="none" stroke="#5080f5" stroke-width="2.4" stroke-linejoin="round" stroke-linecap="round" />
<path d="M365.6,112.4V114.2M370.0,112.1V113.9M374.3,112.1V113.9M378.6,112.2V114.0M382.9,112.1V113.9M387.2,111.8V113.6M391.5,111.7V113.5M395.9,111.8V113.6M400.2,111.5V113.3M404.5,111.5V113.3M408.8,111.5V113.3M413.1,111.4V113.2M417.5,111.2V113.0M421.8,111.1V112.9M426.1,111.1V112.9M430.4,111.2V113.0M434.7,111.1V112.9M439.0,111.2V113.0M443.4,111.1V112.9M447.7,111.1V112.9M452.0,110.7V112.5M456.3,110.7V112.5M460.6,110.6V112.4M464.9,110.7V112.5M469.3,110.6V112.4M473.6,110.5V112.3M477.9,110.7V112.5M482.2,110.5V112.3M486.5,110.6V112.4M490.9,110.5V112.3M495.2,110.7V112.5M499.5,110.6V112.4M503.8,110.5V112.3M508.1,110.4V112.2M512.4,110.5V112.3M516.8,110.6V112.4M521.1,110.5V112.3M525.4,110.6V112.4M529.7,110.6V112.4M534.0,110.4V112.2M538.4,110.3V112.1M542.7,110.5V112.3M547.0,110.5V112.3" stroke="#222" stroke-width="0.9" fill="none" opacity="0.25"/>
<polyline points="365.6,107.9 370.0,107.8 374.3,107.5 378.6,107.2 382.9,106.7 387.2,106.2 391.5,105.9 395.9,105.6 400.2,105.6 404.5,105.4 408.8,105.4 413.1,105.4 417.5,105.3 421.8,105.3 426.1,105.3 430.4,105.4 434.7,105.3 439.0,105.4 443.4,105.4 447.7,105.4 452.0,105.1 456.3,104.9 460.6,104.7 464.9,104.6 469.3,104.5 473.6,104.3 477.9,104.4 482.2,104.1 486.5,104.1 490.9,104.1 495.2,104.1 499.5,104.1 503.8,104.1 508.1,104.0 512.4,103.9 516.8,103.7 521.1,103.7 525.4,103.6 529.7,103.5 534.0,103.4 538.4,103.4 542.7,103.4 547.0,103.1" fill="none" stroke="#05f014" stroke-width="2.4" stroke-linejoin="round" stroke-linecap="round" />
<path d="M365.6,107.0V108.8M370.0,106.9V108.7M374.3,106.6V108.4M378.6,106.3V108.1M382.9,105.8V107.6M387.2,105.3V107.1M391.5,105.0V106.8M395.9,104.7V106.5M400.2,104.7V106.5M404.5,104.5V106.3M408.8,104.5V106.3M413.1,104.5V106.3M417.5,104.4V106.2M421.8,104.4V106.2M426.1,104.4V106.2M430.4,104.5V106.3M434.7,104.4V106.2M439.0,104.5V106.3M443.4,104.5V106.3M447.7,104.5V106.3M452.0,104.2V106.0M456.3,104.0V105.8M460.6,103.8V105.6M464.9,103.7V105.5M469.3,103.6V105.4M473.6,103.4V105.2M477.9,103.5V105.3M482.2,103.2V105.0M486.5,103.2V105.0M490.9,103.2V105.0M495.2,103.2V105.0M499.5,103.2V105.0M503.8,103.2V105.0M508.1,103.1V104.9M512.4,103.0V104.8M516.8,102.8V104.6M521.1,102.8V104.6M525.4,102.7V104.5M529.7,102.6V104.4M534.0,102.5V104.3M538.4,102.5V104.3M542.7,102.5V104.3M547.0,102.2V104.0" stroke="#222" stroke-width="0.9" fill="none" opacity="0.25"/>
<polyline points="365.6,100.4 370.0,99.8 374.3,99.8 378.6,100.2 382.9,100.4 387.2,100.4 391.5,100.3 395.9,100.8 400.2,100.0 404.5,99.8 408.8,99.9 413.1,99.6 417.5,99.6 421.8,100.1 426.1,100.2 430.4,99.8 434.7,99.9 439.0,99.8 443.4,99.6 447.7,99.6 452.0,100.0 456.3,99.2 460.6,99.2 464.9,99.0 469.3,98.8 473.6,99.5 477.9,100.1 482.2,100.4 486.5,98.7 490.9,98.7 495.2,98.4 499.5,98.9 503.8,99.6 508.1,99.2 512.4,99.4 516.8,99.1 521.1,98.5 525.4,98.2 529.7,97.7 534.0,98.3 538.4,99.2 542.7,99.0 547.0,99.9" fill="none" stroke="#7d4b05" stroke-width="2.4" stroke-linejoin="round" stroke-linecap="round" />
<path d="M365.6,99.5V101.3M370.0,98.9V100.7M374.3,98.9V100.7M378.6,99.3V101.1M382.9,99.5V101.3M387.2,99.5V101.3M391.5,99.4V101.2M395.9,99.9V101.7M400.2,99.1V100.9M404.5,98.9V100.7M408.8,99.0V100.8M413.1,98.7V100.5M417.5,98.7V100.5M421.8,99.2V101.0M426.1,99.3V101.1M430.4,98.9V100.7M434.7,99.0V100.8M439.0,98.9V100.7M443.4,98.7V100.5M447.7,98.7V100.5M452.0,99.1V100.9M456.3,98.3V100.1M460.6,98.3V100.1M464.9,98.1V99.9M469.3,97.9V99.7M473.6,98.6V100.4M477.9,99.2V101.0M482.2,99.5V101.3M486.5,97.8V99.6M490.9,97.8V99.6M495.2,97.5V99.3M499.5,98.0V99.8M503.8,98.7V100.5M508.1,98.3V100.1M512.4,98.5V100.3M516.8,98.2V100.0M521.1,97.6V99.4M525.4,97.3V99.1M529.7,96.8V98.6M534.0,97.4V99.2M538.4,98.3V100.1M542.7,98.1V99.9M547.0,99.0V100.8" stroke="#222" stroke-width="0.9" fill="none" opacity="0.25"/>
<path d="M365.6,95.2V97.2M364.6,95.2h2.0M364.6,97.2h2.0M370.0,95.7V97.7M369.0,95.7h2.0M369.0,97.7h2.0M374.3,95.4V97.4M373.3,95.4h2.0M373.3,97.4h2.0M378.6,95.4V97.4M377.6,95.4h2.0M377.6,97.4h2.0M382.9,95.0V97.0M381.9,95.0h2.0M381.9,97.0h2.0M387.2,95.0V97.0M386.2,95.0h2.0M386.2,97.0h2.0M391.5,95.6V97.6M390.5,95.6h2.0M390.5,97.6h2.0M395.9,95.3V97.3M394.9,95.3h2.0M394.9,97.3h2.0M400.2,95.5V97.5M399.2,95.5h2.0M399.2,97.5h2.0M404.5,96.0V98.0M403.5,96.0h2.0M403.5,98.0h2.0M408.8,95.7V97.7M407.8,95.7h2.0M407.8,97.7h2.0M413.1,94.9V96.9M412.1,94.9h2.0M412.1,96.9h2.0M417.5,95.6V97.6M416.5,95.6h2.0M416.5,97.6h2.0M421.8,95.4V97.4M420.8,95.4h2.0M420.8,97.4h2.0M426.1,95.4V97.4M425.1,95.4h2.0M425.1,97.4h2.0M430.4,95.3V97.3M429.4,95.3h2.0M429.4,97.3h2.0M434.7,95.3V97.3M433.7,95.3h2.0M433.7,97.3h2.0M439.0,95.6V97.6M438.0,95.6h2.0M438.0,97.6h2.0M443.4,95.0V97.0M442.4,95.0h2.0M442.4,97.0h2.0M447.7,94.9V96.9M446.7,94.9h2.0M446.7,96.9h2.0M452.0,94.8V96.8M451.0,94.8h2.0M451.0,96.8h2.0M456.3,94.8V96.8M455.3,94.8h2.0M455.3,96.8h2.0M460.6,94.9V96.9M459.6,94.9h2.0M459.6,96.9h2.0M464.9,95.2V97.2M463.9,95.2h2.0M463.9,97.2h2.0M469.3,94.6V96.6M468.3,94.6h2.0M468.3,96.6h2.0M473.6,95.1V97.1M472.6,95.1h2.0M472.6,97.1h2.0M477.9,96.1V98.1M476.9,96.1h2.0M476.9,98.1h2.0M482.2,94.6V100.6M481.2,94.6h2.0M481.2,100.6h2.0M486.5,93.3V99.3M485.5,93.3h2.0M485.5,99.3h2.0M490.9,92.5V98.5M489.9,92.5h2.0M489.9,98.5h2.0M495.2,92.7V98.7M494.2,92.7h2.0M494.2,98.7h2.0M499.5,93.2V99.2M498.5,93.2h2.0M498.5,99.2h2.0M503.8,93.0V99.0M502.8,93.0h2.0M502.8,99.0h2.0M508.1,93.3V99.3M507.1,93.3h2.0M507.1,99.3h2.0M512.4,93.0V99.0M511.4,93.0h2.0M511.4,99.0h2.0M516.8,92.7V98.7M515.8,92.7h2.0M515.8,98.7h2.0M521.1,92.7V98.7M520.1,92.7h2.0M520.1,98.7h2.0M525.4,92.9V98.9M524.4,92.9h2.0M524.4,98.9h2.0M529.7,92.8V98.8M528.7,92.8h2.0M528.7,98.8h2.0M534.0,92.5V98.5M533.0,92.5h2.0M533.0,98.5h2.0M538.4,92.2V98.2M537.4,92.2h2.0M537.4,98.2h2.0M542.7,92.8V98.8M541.7,92.8h2.0M541.7,98.8h2.0M547.0,93.7V99.7M546.0,93.7h2.0M546.0,99.7h2.0" stroke="#555" stroke-width="0.5" fill="none" opacity="0.5"/>
<polyline points="365.6,96.2 370.0,96.7 374.3,96.4 378.6,96.4 382.9,96.0 387.2,96.0 391.5,96.6 395.9,96.3 400.2,96.5 404.5,97.0 408.8,96.7 413.1,95.9 417.5,96.6 421.8,96.4 426.1,96.4 430.4,96.3 434.7,96.3 439.0,96.6 443.4,96.0 447.7,95.9 452.0,95.8 456.3,95.8 460.6,95.9 464.9,96.2 469.3,95.6 473.6,96.1 477.9,97.1 482.2,97.6 486.5,96.3 490.9,95.5 495.2,95.7 499.5,96.2 503.8,96.0 508.1,96.3 512.4,96.0 516.8,95.7 521.1,95.7 525.4,95.9 529.7,95.8 534.0,95.5 538.4,95.2 542.7,95.8 547.0,96.7" fill="none" stroke="#872de1" stroke-width="2.4" stroke-linejoin="round" stroke-linecap="round" />
<path d="M365.6,95.3V97.1M370.0,95.8V97.6M374.3,95.5V97.3M378.6,95.5V97.3M382.9,95.1V96.9M387.2,95.1V96.9M391.5,95.7V97.5M395.9,95.4V97.2M400.2,95.6V97.4M404.5,96.1V97.9M408.8,95.8V97.6M413.1,95.0V96.8M417.5,95.7V97.5M421.8,95.5V97.3M426.1,95.5V97.3M430.4,95.4V97.2M434.7,95.4V97.2M439.0,95.7V97.5M443.4,95.1V96.9M447.7,95.0V96.8M452.0,94.9V96.7M456.3,94.9V96.7M460.6,95.0V96.8M464.9,95.3V97.1M469.3,94.7V96.5M473.6,95.2V97.0M477.9,96.2V98.0M482.2,96.7V98.5M486.5,95.4V97.2M490.9,94.6V96.4M495.2,94.8V96.6M499.5,95.3V97.1M503.8,95.1V96.9M508.1,95.4V97.2M512.4,95.1V96.9M516.8,94.8V96.6M521.1,94.8V96.6M525.4,95.0V96.8M529.7,94.9V96.7M534.0,94.6V96.4M538.4,94.3V96.1M542.7,94.9V96.7M547.0,95.8V97.6" stroke="#222" stroke-width="0.9" fill="none" opacity="0.25"/>
<path d="M365.6,64.2V67.4M364.5,64.2h2.2M364.5,67.4h2.2M370.0,64.6V67.8M368.9,64.6h2.2M368.9,67.8h2.2M374.3,64.3V67.5M373.2,64.3h2.2M373.2,67.5h2.2M378.6,64.5V67.7M377.5,64.5h2.2M377.5,67.7h2.2M382.9,64.5V67.7M381.8,64.5h2.2M381.8,67.7h2.2M387.2,64.6V67.8M386.1,64.6h2.2M386.1,67.8h2.2M391.5,64.8V68.0M390.4,64.8h2.2M390.4,68.0h2.2M395.9,66.0V69.2M394.8,66.0h2.2M394.8,69.2h2.2M400.2,65.9V69.1M399.1,65.9h2.2M399.1,69.1h2.2M404.5,65.3V68.5M403.4,65.3h2.2M403.4,68.5h2.2M408.8,65.7V68.9M407.7,65.7h2.2M407.7,68.9h2.2M413.1,65.8V69.0M412.0,65.8h2.2M412.0,69.0h2.2M417.5,65.4V68.6M416.4,65.4h2.2M416.4,68.6h2.2M421.8,65.9V69.1M420.7,65.9h2.2M420.7,69.1h2.2M426.1,66.0V69.2M425.0,66.0h2.2M425.0,69.2h2.2M430.4,66.7V69.9M429.3,66.7h2.2M429.3,69.9h2.2M434.7,65.6V68.8M433.6,65.6h2.2M433.6,68.8h2.2M439.0,64.9V68.1M437.9,64.9h2.2M437.9,68.1h2.2M443.4,65.4V68.6M442.3,65.4h2.2M442.3,68.6h2.2M447.7,65.3V68.5M446.6,65.3h2.2M446.6,68.5h2.2M452.0,65.2V68.4M450.9,65.2h2.2M450.9,68.4h2.2M456.3,64.3V67.5M455.2,64.3h2.2M455.2,67.5h2.2M460.6,65.1V68.3M459.5,65.1h2.2M459.5,68.3h2.2M464.9,66.1V69.3M463.8,66.1h2.2M463.8,69.3h2.2M469.3,64.7V67.9M468.2,64.7h2.2M468.2,67.9h2.2M473.6,64.3V67.5M472.5,64.3h2.2M472.5,67.5h2.2M477.9,65.3V68.5M476.8,65.3h2.2M476.8,68.5h2.2M482.2,65.4V68.6M481.1,65.4h2.2M481.1,68.6h2.2M486.5,63.7V66.9M485.4,63.7h2.2M485.4,66.9h2.2M490.9,63.7V66.9M489.8,63.7h2.2M489.8,66.9h2.2M495.2,64.1V67.3M494.1,64.1h2.2M494.1,67.3h2.2M499.5,62.7V68.9M498.4,62.7h2.2M498.4,68.9h2.2M503.8,62.9V69.1M502.7,62.9h2.2M502.7,69.1h2.2M508.1,63.9V70.1M507.0,63.9h2.2M507.0,70.1h2.2M512.4,65.2V71.4M511.3,65.2h2.2M511.3,71.4h2.2M516.8,65.0V71.2M515.7,65.0h2.2M515.7,71.2h2.2M521.1,63.0V72.2M520.0,63.0h2.2M520.0,72.2h2.2M525.4,63.9V70.1M524.3,63.9h2.2M524.3,70.1h2.2M529.7,62.7V71.9M528.6,62.7h2.2M528.6,71.9h2.2M534.0,64.3V70.5M532.9,64.3h2.2M532.9,70.5h2.2M538.4,63.3V72.5M537.3,63.3h2.2M537.3,72.5h2.2M542.7,64.1V70.3M541.6,64.1h2.2M541.6,70.3h2.2M547.0,64.7V70.9M545.9,64.7h2.2M545.9,70.9h2.2" stroke="#333" stroke-width="0.6" fill="none" opacity="0.55"/>
<polyline points="365.6,65.8 370.0,66.2 374.3,65.9 378.6,66.1 382.9,66.1 387.2,66.2 391.5,66.4 395.9,67.6 400.2,67.5 404.5,66.9 408.8,67.3 413.1,67.4 417.5,67.0 421.8,67.5 426.1,67.6 430.4,68.3 434.7,67.2 439.0,66.5 443.4,67.0 447.7,66.9 452.0,66.8 456.3,65.9 460.6,66.7 464.9,67.7 469.3,66.3 473.6,65.9 477.9,66.9 482.2,67.0 486.5,65.3 490.9,65.3 495.2,65.7 499.5,65.8 503.8,66.0 508.1,67.0 512.4,68.3 516.8,68.1 521.1,67.6 525.4,67.0 529.7,67.3 534.0,67.4 538.4,67.9 542.7,67.2 547.0,67.8" fill="none" stroke="#5a5a5a" stroke-width="2.4" stroke-linejoin="round" stroke-linecap="round" />
<path d="M365.6,64.9V66.7M370.0,65.3V67.1M374.3,65.0V66.8M378.6,65.2V67.0M382.9,65.2V67.0M387.2,65.3V67.1M391.5,65.5V67.3M395.9,66.7V68.5M400.2,66.6V68.4M404.5,66.0V67.8M408.8,66.4V68.2M413.1,66.5V68.3M417.5,66.1V67.9M421.8,66.6V68.4M426.1,66.7V68.5M430.4,67.4V69.2M434.7,66.3V68.1M439.0,65.6V67.4M443.4,66.1V67.9M447.7,66.0V67.8M452.0,65.9V67.7M456.3,65.0V66.8M460.6,65.8V67.6M464.9,66.8V68.6M469.3,65.4V67.2M473.6,65.0V66.8M477.9,66.0V67.8M482.2,66.1V67.9M486.5,64.4V66.2M490.9,64.4V66.2M495.2,64.8V66.6M499.5,64.9V66.7M503.8,65.1V66.9M508.1,66.1V67.9M512.4,67.4V69.2M516.8,67.2V69.0M521.1,66.7V68.5M525.4,66.1V67.9M529.7,66.4V68.2M534.0,66.5V68.3M538.4,67.0V68.8M542.7,66.3V68.1M547.0,66.9V68.7" stroke="#222" stroke-width="0.9" fill="none" opacity="0.25"/>
<path d="M365.6,27.9V31.5M364.6,27.9h2.0M364.6,31.5h2.0M370.0,28.1V31.7M369.0,28.1h2.0M369.0,31.7h2.0M374.3,28.1V31.7M373.3,28.1h2.0M373.3,31.7h2.0M378.6,28.3V31.9M377.6,28.3h2.0M377.6,31.9h2.0M382.9,28.3V31.9M381.9,28.3h2.0M381.9,31.9h2.0M387.2,28.7V32.3M386.2,28.7h2.0M386.2,32.3h2.0M391.5,28.6V32.2M390.5,28.6h2.0M390.5,32.2h2.0M395.9,28.8V32.4M394.9,28.8h2.0M394.9,32.4h2.0M400.2,28.9V32.5M399.2,28.9h2.0M399.2,32.5h2.0M404.5,29.2V32.8M403.5,29.2h2.0M403.5,32.8h2.0M408.8,29.4V33.0M407.8,29.4h2.0M407.8,33.0h2.0M413.1,29.4V33.0M412.1,29.4h2.0M412.1,33.0h2.0M417.5,29.5V33.1M416.5,29.5h2.0M416.5,33.1h2.0M421.8,29.7V33.3M420.8,29.7h2.0M420.8,33.3h2.0M426.1,29.7V33.3M425.1,29.7h2.0M425.1,33.3h2.0M430.4,29.9V33.5M429.4,29.9h2.0M429.4,33.5h2.0M434.7,30.2V33.8M433.7,30.2h2.0M433.7,33.8h2.0M439.0,30.4V34.0M438.0,30.4h2.0M438.0,34.0h2.0M443.4,30.3V33.9M442.4,30.3h2.0M442.4,33.9h2.0M447.7,30.7V34.3M446.7,30.7h2.0M446.7,34.3h2.0M452.0,30.7V34.3M451.0,30.7h2.0M451.0,34.3h2.0M456.3,31.0V34.6M455.3,31.0h2.0M455.3,34.6h2.0M460.6,31.0V34.6M459.6,31.0h2.0M459.6,34.6h2.0M464.9,31.1V34.7M463.9,31.1h2.0M463.9,34.7h2.0M469.3,31.3V34.9M468.3,31.3h2.0M468.3,34.9h2.0M473.6,31.5V35.1M472.6,31.5h2.0M472.6,35.1h2.0M477.9,31.5V35.1M476.9,31.5h2.0M476.9,35.1h2.0M482.2,31.7V35.3M481.2,31.7h2.0M481.2,35.3h2.0M486.5,31.8V35.4M485.5,31.8h2.0M485.5,35.4h2.0M490.9,31.8V35.4M489.9,31.8h2.0M489.9,35.4h2.0M495.2,31.8V35.4M494.2,31.8h2.0M494.2,35.4h2.0M499.5,32.0V35.6M498.5,32.0h2.0M498.5,35.6h2.0M503.8,32.1V35.7M502.8,32.1h2.0M502.8,35.7h2.0M508.1,32.2V35.8M507.1,32.2h2.0M507.1,35.8h2.0M512.4,32.3V35.9M511.4,32.3h2.0M511.4,35.9h2.0M516.8,32.5V36.1M515.8,32.5h2.0M515.8,36.1h2.0M521.1,32.5V36.1M520.1,32.5h2.0M520.1,36.1h2.0M525.4,32.5V36.1M524.4,32.5h2.0M524.4,36.1h2.0M529.7,32.6V36.2M528.7,32.6h2.0M528.7,36.2h2.0M534.0,32.8V36.4M533.0,32.8h2.0M533.0,36.4h2.0M538.4,32.9V36.5M537.4,32.9h2.0M537.4,36.5h2.0M542.7,32.9V36.5M541.7,32.9h2.0M541.7,36.5h2.0M547.0,33.0V36.6M546.0,33.0h2.0M546.0,36.6h2.0" stroke="#444" stroke-width="0.6" fill="none" opacity="0.45"/>
<polyline points="365.6,29.7 370.0,29.9 374.3,29.9 378.6,30.1 382.9,30.1 387.2,30.5 391.5,30.4 395.9,30.6 400.2,30.7 404.5,31.0 408.8,31.2 413.1,31.2 417.5,31.3 421.8,31.5 426.1,31.5 430.4,31.7 434.7,32.0 439.0,32.2 443.4,32.1 447.7,32.5 452.0,32.5 456.3,32.8 460.6,32.8 464.9,32.9 469.3,33.1 473.6,33.3 477.9,33.3 482.2,33.5 486.5,33.6 490.9,33.6 495.2,33.6 499.5,33.8 503.8,33.9 508.1,34.0 512.4,34.1 516.8,34.3 521.1,34.3 525.4,34.3 529.7,34.4 534.0,34.6 538.4,34.7 542.7,34.7 547.0,34.8" fill="none" stroke="#05eeee" stroke-width="3.0" stroke-linejoin="round" stroke-linecap="round" />
<path d="M365.6,28.8V30.6M370.0,29.0V30.8M374.3,29.0V30.8M378.6,29.2V31.0M382.9,29.2V31.0M387.2,29.6V31.4M391.5,29.5V31.3M395.9,29.7V31.5M400.2,29.8V31.6M404.5,30.1V31.9M408.8,30.3V32.1M413.1,30.3V32.1M417.5,30.4V32.2M421.8,30.6V32.4M426.1,30.6V32.4M430.4,30.8V32.6M434.7,31.1V32.9M439.0,31.3V33.1M443.4,31.2V33.0M447.7,31.6V33.4M452.0,31.6V33.4M456.3,31.9V33.7M460.6,31.9V33.7M464.9,32.0V33.8M469.3,32.2V34.0M473.6,32.4V34.2M477.9,32.4V34.2M482.2,32.6V34.4M486.5,32.7V34.5M490.9,32.7V34.5M495.2,32.7V34.5M499.5,32.9V34.7M503.8,33.0V34.8M508.1,33.1V34.9M512.4,33.2V35.0M516.8,33.4V35.2M521.1,33.4V35.2M525.4,33.4V35.2M529.7,33.5V35.3M534.0,33.7V35.5M538.4,33.8V35.6M542.7,33.8V35.6M547.0,33.9V35.7" stroke="#222" stroke-width="0.9" fill="none" opacity="0.25"/>
<polyline points="365.6,16.8 370.0,16.9 374.3,17.0 378.6,17.4 382.9,17.6 387.2,17.7 391.5,17.9 395.9,18.1 400.2,18.3 404.5,18.5 408.8,18.5 413.1,18.8 417.5,18.8 421.8,19.2 426.1,19.1 430.4,19.3 434.7,19.6 439.0,19.5 443.4,19.6 447.7,19.9 452.0,19.9 456.3,19.9 460.6,20.0 464.9,20.2 469.3,20.2 473.6,20.6 477.9,20.5 482.2,20.7 486.5,20.8 490.9,21.0 495.2,21.1 499.5,21.3 503.8,21.5 508.1,21.6 512.4,21.6 516.8,22.0 521.1,22.1 525.4,22.0 529.7,22.3 534.0,22.5 538.4,22.7 542.7,22.6 547.0,22.7" fill="none" stroke="#dc00dc" stroke-width="2.4" stroke-linejoin="round" stroke-linecap="round" />
<path d="M365.6,15.9V17.7M370.0,16.0V17.8M374.3,16.1V17.9M378.6,16.5V18.3M382.9,16.7V18.5M387.2,16.8V18.6M391.5,17.0V18.8M395.9,17.2V19.0M400.2,17.4V19.2M404.5,17.6V19.4M408.8,17.6V19.4M413.1,17.9V19.7M417.5,17.9V19.7M421.8,18.3V20.1M426.1,18.2V20.0M430.4,18.4V20.2M434.7,18.7V20.5M439.0,18.6V20.4M443.4,18.7V20.5M447.7,19.0V20.8M452.0,19.0V20.8M456.3,19.0V20.8M460.6,19.1V20.9M464.9,19.3V21.1M469.3,19.3V21.1M473.6,19.7V21.5M477.9,19.6V21.4M482.2,19.8V21.6M486.5,19.9V21.7M490.9,20.1V21.9M495.2,20.2V22.0M499.5,20.4V22.2M503.8,20.6V22.4M508.1,20.7V22.5M512.4,20.7V22.5M516.8,21.1V22.9M521.1,21.2V23.0M525.4,21.1V22.9M529.7,21.4V23.2M534.0,21.6V23.4M538.4,21.8V23.6M542.7,21.7V23.5M547.0,21.8V23.6" stroke="#222" stroke-width="0.9" fill="none" opacity="0.25"/>
<rect x="69.3" y="198.3" width="215.7" height="144.0" fill="none" stroke="#000" stroke-width="1.5"/>
<path d="M69.3,342.3v-8M77.9,342.3v-4M86.6,342.3v-4M95.2,342.3v-4M103.8,342.3v-4M112.4,342.3v-8M121.1,342.3v-4M129.7,342.3v-4M138.3,342.3v-4M147.0,342.3v-4M155.6,342.3v-8M164.2,342.3v-4M172.8,342.3v-4M181.5,342.3v-4M190.1,342.3v-4M198.7,342.3v-8M207.3,342.3v-4M216.0,342.3v-4M224.6,342.3v-4M233.2,342.3v-4M241.9,342.3v-8M250.5,342.3v-4M259.1,342.3v-4M267.7,342.3v-4M276.4,342.3v-4M285.0,342.3v-8" stroke="#000" stroke-width="1.4"/>
<text x="69.3" y="362.3" class="t" text-anchor="middle">8</text>
<text x="112.4" y="362.3" class="t" text-anchor="middle">9</text>
<text x="155.6" y="362.3" class="t" text-anchor="middle">10</text>
<text x="198.7" y="362.3" class="t" text-anchor="middle">11</text>
<text x="241.9" y="362.3" class="t" text-anchor="middle">12</text>
<text x="285.0" y="362.3" class="t" text-anchor="middle">13</text>
<text x="177.2" y="378.3" class="t" text-anchor="middle">Frequency (GHz)</text>
<path d="M69.3,342.3h8M69.3,327.9h4M69.3,313.5h8M69.3,299.1h4M69.3,284.7h8M69.3,270.3h4M69.3,255.9h8M69.3,241.5h4M69.3,227.1h8M69.3,212.7h4M69.3,198.3h8" stroke="#000" stroke-width="1.4"/>
<text x="61.8" y="347.8" class="t" text-anchor="end">0.2</text>
<text x="61.8" y="319.0" class="t" text-anchor="end">0.4</text>
<text x="61.8" y="290.2" class="t" text-anchor="end">0.6</text>
<text x="61.8" y="261.4" class="t" text-anchor="end">0.8</text>
<text x="61.8" y="232.6" class="t" text-anchor="end">1</text>
<text x="61.8" y="203.8" class="t" text-anchor="end">1.2</text>
<polyline points="77.9,227.6 82.2,228.5 86.6,228.6 90.9,228.6 95.2,228.5 99.5,228.5 103.8,228.6 108.1,228.7 112.4,228.5 116.8,228.5 121.1,228.4 125.4,228.6 129.7,228.4 134.0,228.7 138.3,228.6 142.6,228.6 147.0,228.5 151.3,228.5 155.6,228.6 159.9,228.7 164.2,228.6 168.5,228.5 172.8,228.7 177.1,228.6 181.5,228.5 185.8,228.4 190.1,228.5 194.4,228.6 198.7,228.4 203.0,228.5 207.3,228.5 211.7,228.4 216.0,228.5 220.3,228.5 224.6,228.5 228.9,228.4 233.2,228.2 237.5,228.2 241.9,228.3 246.2,228.2 250.5,228.2 254.8,228.3 259.1,228.1" fill="none" stroke="#0008d0" stroke-width="2.2" stroke-linejoin="round" stroke-linecap="round" />
<path d="M77.9,226.7V228.5M82.2,227.6V229.4M86.6,227.7V229.5M90.9,227.7V229.5M95.2,227.6V229.4M99.5,227.6V229.4M103.8,227.7V229.5M108.1,227.8V229.6M112.4,227.6V229.4M116.8,227.6V229.4M121.1,227.5V229.3M125.4,227.7V229.5M129.7,227.5V229.3M134.0,227.8V229.6M138.3,227.7V229.5M142.6,227.7V229.5M147.0,227.6V229.4M151.3,227.6V229.4M155.6,227.7V229.5M159.9,227.8V229.6M164.2,227.7V229.5M168.5,227.6V229.4M172.8,227.8V229.6M177.1,227.7V229.5M181.5,227.6V229.4M185.8,227.5V229.3M190.1,227.6V229.4M194.4,227.7V229.5M198.7,227.5V229.3M203.0,227.6V229.4M207.3,227.6V229.4M211.7,227.5V229.3M216.0,227.6V229.4M220.3,227.6V229.4M224.6,227.6V229.4M228.9,227.5V229.3M233.2,227.3V229.1M237.5,227.3V229.1M241.9,227.4V229.2M246.2,227.3V229.1M250.5,227.3V229.1M254.8,227.4V229.2M259.1,227.2V229.0" stroke="#222" stroke-width="0.9" fill="none" opacity="0.3"/>
<polyline points="77.9,230.9 82.2,230.9 86.6,230.7 90.9,230.9 95.2,230.8 99.5,230.7 103.8,230.7 108.1,230.7 112.4,231.0 116.8,231.2 121.1,231.0 125.4,230.9 129.7,230.7 134.0,230.8 138.3,230.8 142.6,230.7 147.0,230.7 151.3,230.7 155.6,230.9 159.9,230.8 164.2,230.7 168.5,230.7 172.8,230.8 177.1,230.8 181.5,230.7 185.8,230.9 190.1,230.7 194.4,230.9 198.7,230.8 203.0,230.7 207.3,230.9 211.7,230.8 216.0,230.8 220.3,230.8 224.6,230.8 228.9,230.8 233.2,230.7 237.5,230.9 241.9,230.9 246.2,230.8 250.5,230.8 254.8,230.7 259.1,230.9" fill="none" stroke="#ea0000" stroke-width="2.2" stroke-linejoin="round" stroke-linecap="round" />
<path d="M77.9,230.0V231.8M82.2,230.0V231.8M86.6,229.8V231.6M90.9,230.0V231.8M95.2,229.9V231.7M99.5,229.8V231.6M103.8,229.8V231.6M108.1,229.8V231.6M112.4,230.1V231.9M116.8,230.3V232.1M121.1,230.1V231.9M125.4,230.0V231.8M129.7,229.8V231.6M134.0,229.9V231.7M138.3,229.9V231.7M142.6,229.8V231.6M147.0,229.8V231.6M151.3,229.8V231.6M155.6,230.0V231.8M159.9,229.9V231.7M164.2,229.8V231.6M168.5,229.8V231.6M172.8,229.9V231.7M177.1,229.9V231.7M181.5,229.8V231.6M185.8,230.0V231.8M190.1,229.8V231.6M194.4,230.0V231.8M198.7,229.9V231.7M203.0,229.8V231.6M207.3,230.0V231.8M211.7,229.9V231.7M216.0,229.9V231.7M220.3,229.9V231.7M224.6,229.9V231.7M228.9,229.9V231.7M233.2,229.8V231.6M237.5,230.0V231.8M241.9,230.0V231.8M246.2,229.9V231.7M250.5,229.9V231.7M254.8,229.8V231.6M259.1,230.0V231.8" stroke="#222" stroke-width="0.9" fill="none" opacity="0.3"/>
<polyline points="77.9,235.5 82.2,234.5 86.6,233.8 90.9,233.4 95.2,234.5 99.5,235.1 103.8,234.7 108.1,234.9 112.4,234.9 116.8,234.3 121.1,233.7 125.4,233.1 129.7,233.9 134.0,234.9 138.3,235.1 142.6,234.9 147.0,234.8 151.3,234.7 155.6,234.0 159.9,233.5 164.2,233.1 168.5,234.3 172.8,234.8 177.1,234.0 181.5,233.6 185.8,234.2 190.1,234.5 194.4,233.8 198.7,233.2 203.0,233.6 207.3,234.6 211.7,235.6 216.0,234.8 220.3,233.8 224.6,233.6 228.9,234.4 233.2,234.5 237.5,233.9 241.9,233.4 246.2,234.3 250.5,235.0 254.8,234.2 259.1,233.2" fill="none" stroke="#f88008" stroke-width="2.2" stroke-linejoin="round" stroke-linecap="round" />
<path d="M77.9,234.6V236.4M82.2,233.6V235.4M86.6,232.9V234.7M90.9,232.5V234.3M95.2,233.6V235.4M99.5,234.2V236.0M103.8,233.8V235.6M108.1,234.0V235.8M112.4,234.0V235.8M116.8,233.4V235.2M121.1,232.8V234.6M125.4,232.2V234.0M129.7,233.0V234.8M134.0,234.0V235.8M138.3,234.2V236.0M142.6,234.0V235.8M147.0,233.9V235.7M151.3,233.8V235.6M155.6,233.1V234.9M159.9,232.6V234.4M164.2,232.2V234.0M168.5,233.4V235.2M172.8,233.9V235.7M177.1,233.1V234.9M181.5,232.7V234.5M185.8,233.3V235.1M190.1,233.6V235.4M194.4,232.9V234.7M198.7,232.3V234.1M203.0,232.7V234.5M207.3,233.7V235.5M211.7,234.7V236.5M216.0,233.9V235.7M220.3,232.9V234.7M224.6,232.7V234.5M228.9,233.5V235.3M233.2,233.6V235.4M237.5,233.0V234.8M241.9,232.5V234.3M246.2,233.4V235.2M250.5,234.1V235.9M254.8,233.3V235.1M259.1,232.3V234.1" stroke="#222" stroke-width="0.9" fill="none" opacity="0.3"/>
<polyline points="77.9,237.4 82.2,238.0 86.6,236.9 90.9,236.1 95.2,237.0 99.5,237.5 103.8,238.2 108.1,237.8 112.4,237.6 116.8,237.3 121.1,236.5 125.4,235.9 129.7,236.6 134.0,237.1 138.3,237.2 142.6,237.0 147.0,236.9 151.3,236.8 155.6,236.7 159.9,236.2 164.2,235.2 168.5,236.1 172.8,237.2 177.1,237.6 181.5,237.9 185.8,238.2 190.1,237.4 194.4,237.0 198.7,236.5 203.0,237.0 207.3,238.1 211.7,240.0 216.0,238.7 220.3,237.6 224.6,237.3 228.9,238.0 233.2,236.3 237.5,237.2 241.9,238.1 246.2,238.6 250.5,239.2 254.8,239.2 259.1,238.1" fill="none" stroke="#969b0a" stroke-width="2.2" stroke-linejoin="round" stroke-linecap="round" />
<path d="M77.9,236.5V238.3M82.2,237.1V238.9M86.6,236.0V237.8M90.9,235.2V237.0M95.2,236.1V237.9M99.5,236.6V238.4M103.8,237.3V239.1M108.1,236.9V238.7M112.4,236.7V238.5M116.8,236.4V238.2M121.1,235.6V237.4M125.4,235.0V236.8M129.7,235.7V237.5M134.0,236.2V238.0M138.3,236.3V238.1M142.6,236.1V237.9M147.0,236.0V237.8M151.3,235.9V237.7M155.6,235.8V237.6M159.9,235.3V237.1M164.2,234.3V236.1M168.5,235.2V237.0M172.8,236.3V238.1M177.1,236.7V238.5M181.5,237.0V238.8M185.8,237.3V239.1M190.1,236.5V238.3M194.4,236.1V237.9M198.7,235.6V237.4M203.0,236.1V237.9M207.3,237.2V239.0M211.7,239.1V240.9M216.0,237.8V239.6M220.3,236.7V238.5M224.6,236.4V238.2M228.9,237.1V238.9M233.2,235.4V237.2M237.5,236.3V238.1M241.9,237.2V239.0M246.2,237.7V239.5M250.5,238.3V240.1M254.8,238.3V240.1M259.1,237.2V239.0" stroke="#222" stroke-width="0.9" fill="none" opacity="0.3"/>
<polyline points="77.9,241.9 82.2,241.8 86.6,241.9 90.9,242.0 95.2,241.9 99.5,242.0 103.8,241.9 108.1,242.1 112.4,242.0 116.8,242.1 121.1,242.1 125.4,242.2 129.7,242.2 134.0,242.2 138.3,242.3 142.6,242.2 147.0,242.4 151.3,242.2 155.6,242.3 159.9,242.4 164.2,242.3 168.5,242.2 172.8,242.3 177.1,242.5 181.5,242.4 185.8,242.5 190.1,242.5 194.4,242.6 198.7,242.6 203.0,242.6 207.3,242.5 211.7,242.4 216.0,242.6 220.3,242.7 224.6,242.8 228.9,242.6 233.2,242.6 237.5,242.8 241.9,242.8 246.2,242.7 250.5,242.8 254.8,242.7 259.1,242.8" fill="none" stroke="#10b014" stroke-width="2.2" stroke-linejoin="round" stroke-linecap="round" />
<path d="M77.9,241.0V242.8M82.2,240.9V242.7M86.6,241.0V242.8M90.9,241.1V242.9M95.2,241.0V242.8M99.5,241.1V242.9M103.8,241.0V242.8M108.1,241.2V243.0M112.4,241.1V242.9M116.8,241.2V243.0M121.1,241.2V243.0M125.4,241.3V243.1M129.7,241.3V243.1M134.0,241.3V243.1M138.3,241.4V243.2M142.6,241.3V243.1M147.0,241.5V243.3M151.3,241.3V243.1M155.6,241.4V243.2M159.9,241.5V243.3M164.2,241.4V243.2M168.5,241.3V243.1M172.8,241.4V243.2M177.1,241.6V243.4M181.5,241.5V243.3M185.8,241.6V243.4M190.1,241.6V243.4M194.4,241.7V243.5M198.7,241.7V243.5M203.0,241.7V243.5M207.3,241.6V243.4M211.7,241.5V243.3M216.0,241.7V243.5M220.3,241.8V243.6M224.6,241.9V243.7M228.9,241.7V243.5M233.2,241.7V243.5M237.5,241.9V243.7M241.9,241.9V243.7M246.2,241.8V243.6M250.5,241.9V243.7M254.8,241.8V243.6M259.1,241.9V243.7" stroke="#222" stroke-width="0.9" fill="none" opacity="0.3"/>
<polyline points="77.9,242.2 82.2,242.2 86.6,242.1 90.9,242.1 95.2,242.3 99.5,242.4 103.8,242.2 108.1,242.2 112.4,242.2 116.8,242.5 121.1,242.4 125.4,242.4 129.7,242.6 134.0,242.5 138.3,242.4 142.6,242.6 147.0,242.4 151.3,242.5 155.6,242.7 159.9,242.5 164.2,242.5 168.5,242.7 172.8,242.7 177.1,242.9 181.5,242.6 185.8,242.9 190.1,242.7 194.4,242.9 198.7,242.8 203.0,242.9 207.3,242.8 211.7,242.8 216.0,242.9 220.3,243.0 224.6,242.9 228.9,242.9 233.2,243.0 237.5,242.9 241.9,243.0 246.2,243.1 250.5,243.1 254.8,243.1 259.1,243.0" fill="none" stroke="#0aafaf" stroke-width="2.2" stroke-linejoin="round" stroke-linecap="round" />
<path d="M77.9,241.3V243.1M82.2,241.3V243.1M86.6,241.2V243.0M90.9,241.2V243.0M95.2,241.4V243.2M99.5,241.5V243.3M103.8,241.3V243.1M108.1,241.3V243.1M112.4,241.3V243.1M116.8,241.6V243.4M121.1,241.5V243.3M125.4,241.5V243.3M129.7,241.7V243.5M134.0,241.6V243.4M138.3,241.5V243.3M142.6,241.7V243.5M147.0,241.5V243.3M151.3,241.6V243.4M155.6,241.8V243.6M159.9,241.6V243.4M164.2,241.6V243.4M168.5,241.8V243.6M172.8,241.8V243.6M177.1,242.0V243.8M181.5,241.7V243.5M185.8,242.0V243.8M190.1,241.8V243.6M194.4,242.0V243.8M198.7,241.9V243.7M203.0,242.0V243.8M207.3,241.9V243.7M211.7,241.9V243.7M216.0,242.0V243.8M220.3,242.1V243.9M224.6,242.0V243.8M228.9,242.0V243.8M233.2,242.1V243.9M237.5,242.0V243.8M241.9,242.1V243.9M246.2,242.2V244.0M250.5,242.2V244.0M254.8,242.2V244.0M259.1,242.1V243.9" stroke="#222" stroke-width="0.9" fill="none" opacity="0.3"/>
<polyline points="77.9,245.1 82.2,245.1 86.6,245.3 90.9,245.3 95.2,245.4 99.5,245.4 103.8,245.6 108.1,245.6 112.4,245.6 116.8,245.7 121.1,245.7 125.4,245.7 129.7,245.7 134.0,245.7 138.3,246.0 142.6,245.9 147.0,245.8 151.3,246.1 155.6,246.1 159.9,246.2 164.2,246.2 168.5,246.2 172.8,246.5 177.1,246.3 181.5,246.5 185.8,246.7 190.1,246.5 194.4,246.7 198.7,246.8 203.0,246.8 207.3,247.0 211.7,246.9 216.0,246.8 220.3,247.0 224.6,246.9 228.9,247.2 233.2,247.2 237.5,247.3 241.9,247.1 246.2,247.3 250.5,247.2 254.8,247.3 259.1,247.3" fill="none" stroke="#5080f5" stroke-width="2.2" stroke-linejoin="round" stroke-linecap="round" />
<path d="M77.9,244.2V246.0M82.2,244.2V246.0M86.6,244.4V246.2M90.9,244.4V246.2M95.2,244.5V246.3M99.5,244.5V246.3M103.8,244.7V246.5M108.1,244.7V246.5M112.4,244.7V246.5M116.8,244.8V246.6M121.1,244.8V246.6M125.4,244.8V246.6M129.7,244.8V246.6M134.0,244.8V246.6M138.3,245.1V246.9M142.6,245.0V246.8M147.0,244.9V246.7M151.3,245.2V247.0M155.6,245.2V247.0M159.9,245.3V247.1M164.2,245.3V247.1M168.5,245.3V247.1M172.8,245.6V247.4M177.1,245.4V247.2M181.5,245.6V247.4M185.8,245.8V247.6M190.1,245.6V247.4M194.4,245.8V247.6M198.7,245.9V247.7M203.0,245.9V247.7M207.3,246.1V247.9M211.7,246.0V247.8M216.0,245.9V247.7M220.3,246.1V247.9M224.6,246.0V247.8M228.9,246.3V248.1M233.2,246.3V248.1M237.5,246.4V248.2M241.9,246.2V248.0M246.2,246.4V248.2M250.5,246.3V248.1M254.8,246.4V248.2M259.1,246.4V248.2" stroke="#222" stroke-width="0.9" fill="none" opacity="0.3"/>
<polyline points="77.9,250.0 82.2,250.0 86.6,250.1 90.9,250.0 95.2,250.2 99.5,249.9 103.8,250.2 108.1,250.0 112.4,249.9 116.8,250.1 121.1,250.0 125.4,250.1 129.7,250.0 134.0,250.1 138.3,249.9 142.6,250.1 147.0,250.0 151.3,250.1 155.6,249.8 159.9,249.8 164.2,249.9 168.5,250.0 172.8,249.8 177.1,249.8 181.5,249.8 185.8,249.7 190.1,249.7 194.4,249.7 198.7,249.5 203.0,249.5 207.3,249.5 211.7,249.3 216.0,249.3 220.3,249.1 224.6,249.1 228.9,249.1 233.2,249.0 237.5,249.0 241.9,248.8 246.2,248.6 250.5,248.5 254.8,248.4 259.1,248.3" fill="none" stroke="#05f014" stroke-width="2.2" stroke-linejoin="round" stroke-linecap="round" />
<path d="M77.9,249.1V250.9M82.2,249.1V250.9M86.6,249.2V251.0M90.9,249.1V250.9M95.2,249.3V251.1M99.5,249.0V250.8M103.8,249.3V251.1M108.1,249.1V250.9M112.4,249.0V250.8M116.8,249.2V251.0M121.1,249.1V250.9M125.4,249.2V251.0M129.7,249.1V250.9M134.0,249.2V251.0M138.3,249.0V250.8M142.6,249.2V251.0M147.0,249.1V250.9M151.3,249.2V251.0M155.6,248.9V250.7M159.9,248.9V250.7M164.2,249.0V250.8M168.5,249.1V250.9M172.8,248.9V250.7M177.1,248.9V250.7M181.5,248.9V250.7M185.8,248.8V250.6M190.1,248.8V250.6M194.4,248.8V250.6M198.7,248.6V250.4M203.0,248.6V250.4M207.3,248.6V250.4M211.7,248.4V250.2M216.0,248.4V250.2M220.3,248.2V250.0M224.6,248.2V250.0M228.9,248.2V250.0M233.2,248.1V249.9M237.5,248.1V249.9M241.9,247.9V249.7M246.2,247.7V249.5M250.5,247.6V249.4M254.8,247.5V249.3M259.1,247.4V249.2" stroke="#222" stroke-width="0.9" fill="none" opacity="0.3"/>
<path d="M77.9,252.4V254.4M76.9,252.4h2.0M76.9,254.4h2.0M82.2,252.5V254.5M81.2,252.5h2.0M81.2,254.5h2.0M86.6,252.5V254.5M85.6,252.5h2.0M85.6,254.5h2.0M90.9,252.5V254.5M89.9,252.5h2.0M89.9,254.5h2.0M95.2,252.6V254.6M94.2,252.6h2.0M94.2,254.6h2.0M99.5,252.7V254.7M98.5,252.7h2.0M98.5,254.7h2.0M103.8,252.9V254.9M102.8,252.9h2.0M102.8,254.9h2.0M108.1,253.0V255.0M107.1,253.0h2.0M107.1,255.0h2.0M112.4,253.3V255.3M111.4,253.3h2.0M111.4,255.3h2.0M116.8,253.3V255.3M115.8,253.3h2.0M115.8,255.3h2.0M121.1,253.4V255.4M120.1,253.4h2.0M120.1,255.4h2.0M125.4,253.5V255.5M124.4,253.5h2.0M124.4,255.5h2.0M129.7,253.5V255.5M128.7,253.5h2.0M128.7,255.5h2.0M134.0,253.8V255.8M133.0,253.8h2.0M133.0,255.8h2.0M138.3,253.8V255.8M137.3,253.8h2.0M137.3,255.8h2.0M142.6,253.8V255.8M141.6,253.8h2.0M141.6,255.8h2.0M147.0,254.0V256.0M146.0,254.0h2.0M146.0,256.0h2.0M151.3,254.0V256.0M150.3,254.0h2.0M150.3,256.0h2.0M155.6,254.1V256.1M154.6,254.1h2.0M154.6,256.1h2.0M159.9,254.3V256.3M158.9,254.3h2.0M158.9,256.3h2.0M164.2,254.5V256.5M163.2,254.5h2.0M163.2,256.5h2.0M168.5,254.5V256.5M167.5,254.5h2.0M167.5,256.5h2.0M172.8,254.4V256.4M171.8,254.4h2.0M171.8,256.4h2.0M177.1,254.3V256.3M176.1,254.3h2.0M176.1,256.3h2.0M181.5,254.1V256.1M180.5,254.1h2.0M180.5,256.1h2.0M185.8,254.4V256.4M184.8,254.4h2.0M184.8,256.4h2.0M190.1,254.5V256.5M189.1,254.5h2.0M189.1,256.5h2.0M194.4,254.6V256.6M193.4,254.6h2.0M193.4,256.6h2.0M198.7,255.1V257.1M197.7,255.1h2.0M197.7,257.1h2.0M203.0,253.3V259.7M202.0,253.3h2.0M202.0,259.7h2.0M207.3,253.4V259.8M206.3,253.4h2.0M206.3,259.8h2.0M211.7,253.5V259.9M210.7,253.5h2.0M210.7,259.9h2.0M216.0,252.8V259.2M215.0,252.8h2.0M215.0,259.2h2.0M220.3,252.1V258.5M219.3,252.1h2.0M219.3,258.5h2.0M224.6,252.2V258.6M223.6,252.2h2.0M223.6,258.6h2.0M228.9,252.2V258.6M227.9,252.2h2.0M227.9,258.6h2.0M233.2,252.5V258.9M232.2,252.5h2.0M232.2,258.9h2.0M237.5,253.0V259.4M236.5,253.0h2.0M236.5,259.4h2.0M241.9,253.5V259.9M240.9,253.5h2.0M240.9,259.9h2.0M246.2,252.6V259.0M245.2,252.6h2.0M245.2,259.0h2.0M250.5,251.5V257.9M249.5,251.5h2.0M249.5,257.9h2.0M254.8,252.6V259.0M253.8,252.6h2.0M253.8,259.0h2.0M259.1,253.6V260.0M258.1,253.6h2.0M258.1,260.0h2.0" stroke="#666" stroke-width="0.5" fill="none" opacity="0.6"/>
<polyline points="77.9,253.4 82.2,253.5 86.6,253.5 90.9,253.5 95.2,253.6 99.5,253.7 103.8,253.9 108.1,254.0 112.4,254.3 116.8,254.3 121.1,254.4 125.4,254.5 129.7,254.5 134.0,254.8 138.3,254.8 142.6,254.8 147.0,255.0 151.3,255.0 155.6,255.1 159.9,255.3 164.2,255.5 168.5,255.5 172.8,255.4 177.1,255.3 181.5,255.1 185.8,255.4 190.1,255.5 194.4,255.6 198.7,256.1 203.0,256.5 207.3,256.6 211.7,256.7 216.0,256.0 220.3,255.3 224.6,255.4 228.9,255.4 233.2,255.7 237.5,256.2 241.9,256.7 246.2,255.8 250.5,254.7 254.8,255.8 259.1,256.8" fill="none" stroke="#7d4b05" stroke-width="2.2" stroke-linejoin="round" stroke-linecap="round" />
<path d="M77.9,252.5V254.3M82.2,252.6V254.4M86.6,252.6V254.4M90.9,252.6V254.4M95.2,252.7V254.5M99.5,252.8V254.6M103.8,253.0V254.8M108.1,253.1V254.9M112.4,253.4V255.2M116.8,253.4V255.2M121.1,253.5V255.3M125.4,253.6V255.4M129.7,253.6V255.4M134.0,253.9V255.7M138.3,253.9V255.7M142.6,253.9V255.7M147.0,254.1V255.9M151.3,254.1V255.9M155.6,254.2V256.0M159.9,254.4V256.2M164.2,254.6V256.4M168.5,254.6V256.4M172.8,254.5V256.3M177.1,254.4V256.2M181.5,254.2V256.0M185.8,254.5V256.3M190.1,254.6V256.4M194.4,254.7V256.5M198.7,255.2V257.0M203.0,255.6V257.4M207.3,255.7V257.5M211.7,255.8V257.6M216.0,255.1V256.9M220.3,254.4V256.2M224.6,254.5V256.3M228.9,254.5V256.3M233.2,254.8V256.6M237.5,255.3V257.1M241.9,255.8V257.6M246.2,254.9V256.7M250.5,253.8V255.6M254.8,254.9V256.7M259.1,255.9V257.7" stroke="#222" stroke-width="0.9" fill="none" opacity="0.3"/>
<path d="M77.9,258.7V263.1M76.9,258.7h2.0M76.9,263.1h2.0M82.2,259.6V264.0M81.2,259.6h2.0M81.2,264.0h2.0M86.6,260.2V264.6M85.6,260.2h2.0M85.6,264.6h2.0M90.9,258.6V263.0M89.9,258.6h2.0M89.9,263.0h2.0M95.2,257.9V262.3M94.2,257.9h2.0M94.2,262.3h2.0M99.5,259.9V264.3M98.5,259.9h2.0M98.5,264.3h2.0M103.8,258.5V262.9M102.8,258.5h2.0M102.8,262.9h2.0M108.1,260.0V264.4M107.1,260.0h2.0M107.1,264.4h2.0M112.4,257.7V262.1M111.4,257.7h2.0M111.4,262.1h2.0M116.8,259.6V264.0M115.8,259.6h2.0M115.8,264.0h2.0M121.1,259.8V264.2M120.1,259.8h2.0M120.1,264.2h2.0M125.4,258.4V262.8M124.4,258.4h2.0M124.4,262.8h2.0M129.7,259.2V263.6M128.7,259.2h2.0M128.7,263.6h2.0M134.0,259.0V263.4M133.0,259.0h2.0M133.0,263.4h2.0M138.3,259.3V263.7M137.3,259.3h2.0M137.3,263.7h2.0M142.6,260.6V265.0M141.6,260.6h2.0M141.6,265.0h2.0M147.0,259.0V263.4M146.0,259.0h2.0M146.0,263.4h2.0M151.3,259.7V264.1M150.3,259.7h2.0M150.3,264.1h2.0M155.6,260.1V264.5M154.6,260.1h2.0M154.6,264.5h2.0M159.9,260.0V264.4M158.9,260.0h2.0M158.9,264.4h2.0M164.2,260.1V264.5M163.2,260.1h2.0M163.2,264.5h2.0M168.5,260.6V265.0M167.5,260.6h2.0M167.5,265.0h2.0M172.8,260.8V265.2M171.8,260.8h2.0M171.8,265.2h2.0M177.1,260.2V264.6M176.1,260.2h2.0M176.1,264.6h2.0M181.5,260.2V264.6M180.5,260.2h2.0M180.5,264.6h2.0M185.8,261.1V265.5M184.8,261.1h2.0M184.8,265.5h2.0M190.1,260.7V265.1M189.1,260.7h2.0M189.1,265.1h2.0M194.4,260.7V265.1M193.4,260.7h2.0M193.4,265.1h2.0M198.7,260.3V264.7M197.7,260.3h2.0M197.7,264.7h2.0M203.0,261.2V265.6M202.0,261.2h2.0M202.0,265.6h2.0M207.3,262.1V266.5M206.3,262.1h2.0M206.3,266.5h2.0M211.7,261.9V266.3M210.7,261.9h2.0M210.7,266.3h2.0M216.0,261.6V266.0M215.0,261.6h2.0M215.0,266.0h2.0M220.3,261.2V265.6M219.3,261.2h2.0M219.3,265.6h2.0M224.6,261.6V266.0M223.6,261.6h2.0M223.6,266.0h2.0M228.9,262.0V266.4M227.9,262.0h2.0M227.9,266.4h2.0M233.2,262.6V267.0M232.2,262.6h2.0M232.2,267.0h2.0M237.5,262.9V267.3M236.5,262.9h2.0M236.5,267.3h2.0M241.9,263.2V267.6M240.9,263.2h2.0M240.9,267.6h2.0M246.2,263.0V267.4M245.2,263.0h2.0M245.2,267.4h2.0M250.5,262.5V266.9M249.5,262.5h2.0M249.5,266.9h2.0M254.8,263.1V267.5M253.8,263.1h2.0M253.8,267.5h2.0M259.1,263.6V268.0M258.1,263.6h2.0M258.1,268.0h2.0" stroke="#888" stroke-width="0.5" fill="none" opacity="0.5"/>
<polyline points="77.9,260.9 82.2,261.8 86.6,262.4 90.9,260.8 95.2,260.1 99.5,262.1 103.8,260.7 108.1,262.2 112.4,259.9 116.8,261.8 121.1,262.0 125.4,260.6 129.7,261.4 134.0,261.2 138.3,261.5 142.6,262.8 147.0,261.2 151.3,261.9 155.6,262.3 159.9,262.2 164.2,262.3 168.5,262.8 172.8,263.0 177.1,262.4 181.5,262.4 185.8,263.3 190.1,262.9 194.4,262.9 198.7,262.5 203.0,263.4 207.3,264.3 211.7,264.1 216.0,263.8 220.3,263.4 224.6,263.8 228.9,264.2 233.2,264.8 237.5,265.1 241.9,265.4 246.2,265.2 250.5,264.7 254.8,265.3 259.1,265.8" fill="none" stroke="#872de1" stroke-width="2.2" stroke-linejoin="round" stroke-linecap="round" />
<path d="M77.9,260.0V261.8M82.2,260.9V262.7M86.6,261.5V263.3M90.9,259.9V261.7M95.2,259.2V261.0M99.5,261.2V263.0M103.8,259.8V261.6M108.1,261.3V263.1M112.4,259.0V260.8M116.8,260.9V262.7M121.1,261.1V262.9M125.4,259.7V261.5M129.7,260.5V262.3M134.0,260.3V262.1M138.3,260.6V262.4M142.6,261.9V263.7M147.0,260.3V262.1M151.3,261.0V262.8M155.6,261.4V263.2M159.9,261.3V263.1M164.2,261.4V263.2M168.5,261.9V263.7M172.8,262.1V263.9M177.1,261.5V263.3M181.5,261.5V263.3M185.8,262.4V264.2M190.1,262.0V263.8M194.4,262.0V263.8M198.7,261.6V263.4M203.0,262.5V264.3M207.3,263.4V265.2M211.7,263.2V265.0M216.0,262.9V264.7M220.3,262.5V264.3M224.6,262.9V264.7M228.9,263.3V265.1M233.2,263.9V265.7M237.5,264.2V266.0M241.9,264.5V266.3M246.2,264.3V266.1M250.5,263.8V265.6M254.8,264.4V266.2M259.1,264.9V266.7" stroke="#222" stroke-width="0.9" fill="none" opacity="0.3"/>
<path d="M77.9,264.1V282.5M76.7,264.1h2.4M76.7,282.5h2.4M82.2,263.9V283.9M81.0,263.9h2.4M81.0,283.9h2.4M86.6,266.0V284.0M85.4,266.0h2.4M85.4,284.0h2.4M90.9,266.5V283.4M89.7,266.5h2.4M89.7,283.4h2.4M95.2,264.2V283.4M94.0,264.2h2.4M94.0,283.4h2.4M99.5,264.9V284.6M98.3,264.9h2.4M98.3,284.6h2.4M103.8,265.9V283.2M102.6,265.9h2.4M102.6,283.2h2.4M108.1,266.3V283.7M106.9,266.3h2.4M106.9,283.7h2.4M112.4,265.1V284.9M111.2,265.1h2.4M111.2,284.9h2.4M116.8,265.3V284.3M115.6,265.3h2.4M115.6,284.3h2.4M121.1,267.6V284.5M119.9,267.6h2.4M119.9,284.5h2.4M125.4,266.4V284.5M124.2,266.4h2.4M124.2,284.5h2.4M129.7,265.4V285.4M128.5,265.4h2.4M128.5,285.4h2.4M134.0,267.0V285.3M132.8,267.0h2.4M132.8,285.3h2.4M138.3,267.6V284.5M137.1,267.6h2.4M137.1,284.5h2.4M142.6,268.0V286.9M141.4,268.0h2.4M141.4,286.9h2.4M147.0,266.1V285.9M145.8,266.1h2.4M145.8,285.9h2.4M151.3,268.1V285.6M150.1,268.1h2.4M150.1,285.6h2.4M155.6,268.3V285.6M154.4,268.3h2.4M154.4,285.6h2.4M159.9,266.8V286.5M158.7,266.8h2.4M158.7,286.5h2.4M164.2,267.4V286.7M163.0,267.4h2.4M163.0,286.7h2.4M168.5,268.3V285.2M167.3,268.3h2.4M167.3,285.2h2.4M172.8,268.5V286.5M171.6,268.5h2.4M171.6,286.5h2.4M177.1,268.0V288.0M175.9,268.0h2.4M175.9,288.0h2.4M181.5,267.8V286.3M180.3,267.8h2.4M180.3,286.3h2.4M185.8,269.0V285.8M184.6,269.0h2.4M184.6,285.8h2.4M190.1,268.1V286.9M188.9,268.1h2.4M188.9,286.9h2.4M194.4,267.2V287.1M193.2,267.2h2.4M193.2,287.1h2.4M198.7,268.0V285.7M197.5,268.0h2.4M197.5,285.7h2.4M203.0,268.2V285.3M201.8,268.2h2.4M201.8,285.3h2.4M207.3,268.0V287.5M206.1,268.0h2.4M206.1,287.5h2.4M211.7,268.0V287.5M210.5,268.0h2.4M210.5,287.5h2.4M216.0,269.2V286.2M214.8,269.2h2.4M214.8,286.2h2.4M220.3,268.8V286.5M219.1,268.8h2.4M219.1,286.5h2.4M224.6,269.0V288.9M223.4,269.0h2.4M223.4,288.9h2.4M228.9,268.9V287.6M227.7,268.9h2.4M227.7,287.6h2.4M233.2,269.2V286.0M232.0,269.2h2.4M232.0,286.0h2.4M237.5,269.1V287.6M236.3,269.1h2.4M236.3,287.6h2.4M241.9,268.7V288.7M240.7,268.7h2.4M240.7,288.7h2.4M246.2,269.3V287.2M245.0,269.3h2.4M245.0,287.2h2.4M250.5,269.9V286.9M249.3,269.9h2.4M249.3,286.9h2.4M254.8,269.0V288.3M253.6,269.0h2.4M253.6,288.3h2.4M259.1,268.9V288.5M257.9,268.9h2.4M257.9,288.5h2.4" stroke="#6a6a6a" stroke-width="0.6" fill="none" opacity="0.85"/>
<polyline points="77.9,273.3 82.2,273.9 86.6,275.0 90.9,274.9 95.2,273.8 99.5,274.8 103.8,274.6 108.1,275.0 112.4,275.0 116.8,274.8 121.1,276.0 125.4,275.4 129.7,275.4 134.0,276.2 138.3,276.0 142.6,277.5 147.0,276.0 151.3,276.8 155.6,277.0 159.9,276.7 164.2,277.0 168.5,276.8 172.8,277.5 177.1,278.0 181.5,277.1 185.8,277.4 190.1,277.5 194.4,277.1 198.7,276.8 203.0,276.8 207.3,277.8 211.7,277.7 216.0,277.7 220.3,277.7 224.6,278.9 228.9,278.2 233.2,277.6 237.5,278.4 241.9,278.7 246.2,278.3 250.5,278.4 254.8,278.7 259.1,278.7" fill="none" stroke="#5a5a5a" stroke-width="2.2" stroke-linejoin="round" stroke-linecap="round" />
<path d="M77.9,297.2V310.2M76.7,297.2h2.4M76.7,310.2h2.4M82.2,294.1V308.3M81.0,294.1h2.4M81.0,308.3h2.4M86.6,299.5V310.9M85.4,299.5h2.4M85.4,310.9h2.4M90.9,295.3V309.2M89.7,295.3h2.4M89.7,309.2h2.4M95.2,293.6V307.0M94.0,293.6h2.4M94.0,307.0h2.4M99.5,297.0V308.6M98.3,297.0h2.4M98.3,308.6h2.4M103.8,292.9V307.4M102.6,292.9h2.4M102.6,307.4h2.4M108.1,299.5V311.9M106.9,299.5h2.4M106.9,311.9h2.4M112.4,293.1V305.4M111.2,293.1h2.4M111.2,305.4h2.4M116.8,293.9V308.4M115.6,293.9h2.4M115.6,308.4h2.4M121.1,298.4V310.0M119.9,298.4h2.4M119.9,310.0h2.4M125.4,292.3V305.6M124.2,292.3h2.4M124.2,305.6h2.4M129.7,293.5V307.5M128.5,293.5h2.4M128.5,307.5h2.4M134.0,294.0V305.4M132.8,294.0h2.4M132.8,305.4h2.4M138.3,292.7V306.8M137.1,292.7h2.4M137.1,306.8h2.4M142.6,298.0V311.1M141.4,298.0h2.4M141.4,311.1h2.4M147.0,292.3V304.1M145.8,292.3h2.4M145.8,304.1h2.4M151.3,294.9V309.4M150.1,294.9h2.4M150.1,309.4h2.4M155.6,294.7V306.9M154.4,294.7h2.4M154.4,306.9h2.4M159.9,293.6V306.2M158.7,293.6h2.4M158.7,306.2h2.4M164.2,292.9V307.3M163.0,292.9h2.4M163.0,307.3h2.4M168.5,294.2V305.7M167.3,294.2h2.4M167.3,305.7h2.4M172.8,294.3V307.8M171.6,294.3h2.4M171.6,307.8h2.4M177.1,296.4V310.1M175.9,296.4h2.4M175.9,310.1h2.4M181.5,295.2V306.7M180.3,295.2h2.4M180.3,306.7h2.4M185.8,293.0V307.3M184.6,293.0h2.4M184.6,307.3h2.4M190.1,294.4V307.2M188.9,294.4h2.4M188.9,307.2h2.4M194.4,295.4V307.3M193.2,295.4h2.4M193.2,307.3h2.4M198.7,291.3V305.9M197.5,291.3h2.4M197.5,305.9h2.4M203.0,294.4V306.4M201.8,294.4h2.4M201.8,306.4h2.4M207.3,296.2V309.1M206.1,296.2h2.4M206.1,309.1h2.4M211.7,293.9V308.2M210.5,293.9h2.4M210.5,308.2h2.4M216.0,297.4V308.8M214.8,297.4h2.4M214.8,308.8h2.4M220.3,292.3V306.1M219.1,292.3h2.4M219.1,306.1h2.4M224.6,295.3V308.9M223.4,295.3h2.4M223.4,308.9h2.4M228.9,296.4V307.9M227.7,296.4h2.4M227.7,307.9h2.4M233.2,293.0V307.5M232.0,293.0h2.4M232.0,307.5h2.4M237.5,294.8V307.4M236.3,294.8h2.4M236.3,307.4h2.4M241.9,295.1V307.3M240.7,295.1h2.4M240.7,307.3h2.4M246.2,294.0V308.6M245.0,294.0h2.4M245.0,308.6h2.4M250.5,295.9V307.7M249.3,295.9h2.4M249.3,307.7h2.4M254.8,294.6V307.6M253.6,294.6h2.4M253.6,307.6h2.4M259.1,293.5V307.7M257.9,293.5h2.4M257.9,307.7h2.4" stroke="#777" stroke-width="0.6" fill="none" opacity="0.8"/>
<polyline points="77.9,303.7 82.2,301.2 86.6,305.2 90.9,302.3 95.2,300.3 99.5,302.8 103.8,300.2 108.1,305.7 112.4,299.3 116.8,301.1 121.1,304.2 125.4,299.0 129.7,300.5 134.0,299.7 138.3,299.8 142.6,304.5 147.0,298.2 151.3,302.2 155.6,300.8 159.9,299.9 164.2,300.1 168.5,299.9 172.8,301.1 177.1,303.2 181.5,300.9 185.8,300.1 190.1,300.8 194.4,301.3 198.7,298.6 203.0,300.4 207.3,302.7 211.7,301.1 216.0,303.1 220.3,299.2 224.6,302.1 228.9,302.1 233.2,300.3 237.5,301.1 241.9,301.2 246.2,301.3 250.5,301.8 254.8,301.1 259.1,300.6" fill="none" stroke="#05eeee" stroke-width="3.0" stroke-linejoin="round" stroke-linecap="round" />
<polyline points="77.9,326.2 82.2,326.3 86.6,326.7 90.9,326.6 95.2,326.5 99.5,326.5 103.8,326.1 108.1,326.1 112.4,326.2 116.8,326.0 121.1,326.2 125.4,326.3 129.7,326.3 134.0,326.4 138.3,326.4 142.6,326.3 147.0,326.4 151.3,326.6 155.6,326.7 159.9,326.6 164.2,326.7 168.5,326.7 172.8,327.0 177.1,327.0 181.5,327.1 185.8,327.3 190.1,327.2 194.4,327.5 198.7,327.7 203.0,327.9 207.3,328.0 211.7,328.2 216.0,328.4 220.3,328.9 224.6,329.0 228.9,329.2 233.2,329.4 237.5,329.6 241.9,329.5 246.2,329.5 250.5,329.6 254.8,329.6 259.1,329.4" fill="none" stroke="#dc00dc" stroke-width="2.2" stroke-linejoin="round" stroke-linecap="round" />
<path d="M77.9,325.3V327.1M82.2,325.4V327.2M86.6,325.8V327.6M90.9,325.7V327.5M95.2,325.6V327.4M99.5,325.6V327.4M103.8,325.2V327.0M108.1,325.2V327.0M112.4,325.3V327.1M116.8,325.1V326.9M121.1,325.3V327.1M125.4,325.4V327.2M129.7,325.4V327.2M134.0,325.5V327.3M138.3,325.5V327.3M142.6,325.4V327.2M147.0,325.5V327.3M151.3,325.7V327.5M155.6,325.8V327.6M159.9,325.7V327.5M164.2,325.8V327.6M168.5,325.8V327.6M172.8,326.1V327.9M177.1,326.1V327.9M181.5,326.2V328.0M185.8,326.4V328.2M190.1,326.3V328.1M194.4,326.6V328.4M198.7,326.8V328.6M203.0,327.0V328.8M207.3,327.1V328.9M211.7,327.3V329.1M216.0,327.5V329.3M220.3,328.0V329.8M224.6,328.1V329.9M228.9,328.3V330.1M233.2,328.5V330.3M237.5,328.7V330.5M241.9,328.6V330.4M246.2,328.6V330.4M250.5,328.7V330.5M254.8,328.7V330.5M259.1,328.5V330.3" stroke="#222" stroke-width="0.9" fill="none" opacity="0.3"/>
<rect x="356.2" y="198.4" width="216.7" height="144.0" fill="none" stroke="#000" stroke-width="1.5"/>
<path d="M356.2,342.4v-8M364.9,342.4v-4M373.5,342.4v-4M382.2,342.4v-4M390.9,342.4v-4M399.5,342.4v-8M408.2,342.4v-4M416.9,342.4v-4M425.5,342.4v-4M434.2,342.4v-4M442.9,342.4v-8M451.5,342.4v-4M460.2,342.4v-4M468.9,342.4v-4M477.6,342.4v-4M486.2,342.4v-8M494.9,342.4v-4M503.6,342.4v-4M512.2,342.4v-4M520.9,342.4v-4M529.6,342.4v-8M538.2,342.4v-4M546.9,342.4v-4M555.6,342.4v-4M564.2,342.4v-4M572.9,342.4v-8" stroke="#000" stroke-width="1.4"/>
<text x="356.2" y="362.4" class="t" text-anchor="middle">8</text>
<text x="399.5" y="362.4" class="t" text-anchor="middle">9</text>
<text x="442.9" y="362.4" class="t" text-anchor="middle">10</text>
<text x="486.2" y="362.4" class="t" text-anchor="middle">11</text>
<text x="529.6" y="362.4" class="t" text-anchor="middle">12</text>
<text x="572.9" y="362.4" class="t" text-anchor="middle">13</text>
<text x="464.5" y="378.4" class="t" text-anchor="middle">Frequency (GHz)</text>
<path d="M356.2,342.4h8M356.2,318.4h4M356.2,294.4h8M356.2,270.4h4M356.2,246.4h8M356.2,222.4h4M356.2,198.4h8" stroke="#000" stroke-width="1.4"/>
<text x="348.7" y="347.9" class="t" text-anchor="end">0</text>
<text x="348.7" y="299.9" class="t" text-anchor="end">0.1</text>
<text x="348.7" y="251.9" class="t" text-anchor="end">0.2</text>
<text x="348.7" y="203.9" class="t" text-anchor="end">0.3</text>
<path d="M364.9,333.7V338.7M364.0,333.7h1.8M364.0,338.7h1.8M369.2,334.1V339.1M368.3,334.1h1.8M368.3,339.1h1.8M373.5,334.0V339.0M372.6,334.0h1.8M372.6,339.0h1.8M377.9,333.9V338.9M377.0,333.9h1.8M377.0,338.9h1.8M382.2,333.9V338.9M381.3,333.9h1.8M381.3,338.9h1.8M386.5,334.1V339.1M385.6,334.1h1.8M385.6,339.1h1.8M390.9,333.9V338.9M390.0,333.9h1.8M390.0,338.9h1.8M395.2,333.8V338.8M394.3,333.8h1.8M394.3,338.8h1.8M399.5,333.7V338.7M398.6,333.7h1.8M398.6,338.7h1.8M403.9,333.8V338.8M403.0,333.8h1.8M403.0,338.8h1.8M408.2,333.9V338.9M407.3,333.9h1.8M407.3,338.9h1.8M412.5,333.7V338.7M411.6,333.7h1.8M411.6,338.7h1.8M416.9,333.9V338.9M416.0,333.9h1.8M416.0,338.9h1.8M421.2,333.7V338.7M420.3,333.7h1.8M420.3,338.7h1.8M425.5,333.6V338.6M424.6,333.6h1.8M424.6,338.6h1.8M429.9,333.7V338.7M429.0,333.7h1.8M429.0,338.7h1.8M434.2,333.6V338.6M433.3,333.6h1.8M433.3,338.6h1.8M438.5,333.6V338.6M437.6,333.6h1.8M437.6,338.6h1.8M442.9,333.5V338.5M442.0,333.5h1.8M442.0,338.5h1.8M447.2,333.5V338.5M446.3,333.5h1.8M446.3,338.5h1.8M451.5,333.5V338.5M450.6,333.5h1.8M450.6,338.5h1.8M455.9,333.6V338.6M455.0,333.6h1.8M455.0,338.6h1.8M460.2,333.3V338.3M459.3,333.3h1.8M459.3,338.3h1.8M464.5,333.5V338.5M463.6,333.5h1.8M463.6,338.5h1.8M468.9,333.3V338.3M468.0,333.3h1.8M468.0,338.3h1.8M473.2,333.5V338.5M472.3,333.5h1.8M472.3,338.5h1.8M477.6,333.2V338.2M476.7,333.2h1.8M476.7,338.2h1.8M481.9,333.4V338.4M481.0,333.4h1.8M481.0,338.4h1.8M486.2,333.3V338.3M485.3,333.3h1.8M485.3,338.3h1.8M490.6,333.4V338.4M489.7,333.4h1.8M489.7,338.4h1.8M494.9,333.2V338.2M494.0,333.2h1.8M494.0,338.2h1.8M499.2,333.2V338.2M498.3,333.2h1.8M498.3,338.2h1.8M503.6,333.1V338.1M502.7,333.1h1.8M502.7,338.1h1.8M507.9,333.1V338.1M507.0,333.1h1.8M507.0,338.1h1.8M512.2,333.0V338.0M511.3,333.0h1.8M511.3,338.0h1.8M516.6,332.7V337.7M515.7,332.7h1.8M515.7,337.7h1.8M520.9,332.6V337.6M520.0,332.6h1.8M520.0,337.6h1.8M525.2,332.5V337.5M524.3,332.5h1.8M524.3,337.5h1.8M529.6,332.7V337.7M528.7,332.7h1.8M528.7,337.7h1.8M533.9,332.3V337.3M533.0,332.3h1.8M533.0,337.3h1.8M538.2,332.2V337.2M537.3,332.2h1.8M537.3,337.2h1.8M542.6,332.0V337.0M541.7,332.0h1.8M541.7,337.0h1.8M546.9,332.0V337.0M546.0,332.0h1.8M546.0,337.0h1.8" stroke="#444" stroke-width="0.5" fill="none" opacity="0.35"/>
<polyline points="364.9,336.2 369.2,336.6 373.5,336.5 377.9,336.4 382.2,336.4 386.5,336.6 390.9,336.4 395.2,336.3 399.5,336.2 403.9,336.3 408.2,336.4 412.5,336.2 416.9,336.4 421.2,336.2 425.5,336.1 429.9,336.2 434.2,336.1 438.5,336.1 442.9,336.0 447.2,336.0 451.5,336.0 455.9,336.1 460.2,335.8 464.5,336.0 468.9,335.8 473.2,336.0 477.6,335.7 481.9,335.9 486.2,335.8 490.6,335.9 494.9,335.7 499.2,335.7 503.6,335.6 507.9,335.6 512.2,335.5 516.6,335.2 520.9,335.1 525.2,335.0 529.6,335.2 533.9,334.8 538.2,334.7 542.6,334.5 546.9,334.5" fill="none" stroke="#0008d0" stroke-width="2.2" stroke-linejoin="round" stroke-linecap="round" />
<path d="M364.9,332.2V337.2M364.0,332.2h1.8M364.0,337.2h1.8M369.2,332.2V337.2M368.3,332.2h1.8M368.3,337.2h1.8M373.5,332.0V337.0M372.6,332.0h1.8M372.6,337.0h1.8M377.9,332.2V337.2M377.0,332.2h1.8M377.0,337.2h1.8M382.2,332.3V337.3M381.3,332.3h1.8M381.3,337.3h1.8M386.5,332.2V337.2M385.6,332.2h1.8M385.6,337.2h1.8M390.9,332.5V337.5M390.0,332.5h1.8M390.0,337.5h1.8M395.2,332.4V337.4M394.3,332.4h1.8M394.3,337.4h1.8M399.5,332.4V337.4M398.6,332.4h1.8M398.6,337.4h1.8M403.9,332.5V337.5M403.0,332.5h1.8M403.0,337.5h1.8M408.2,332.4V337.4M407.3,332.4h1.8M407.3,337.4h1.8M412.5,332.3V337.3M411.6,332.3h1.8M411.6,337.3h1.8M416.9,332.3V337.3M416.0,332.3h1.8M416.0,337.3h1.8M421.2,332.1V337.1M420.3,332.1h1.8M420.3,337.1h1.8M425.5,332.0V337.0M424.6,332.0h1.8M424.6,337.0h1.8M429.9,331.8V336.8M429.0,331.8h1.8M429.0,336.8h1.8M434.2,331.9V336.9M433.3,331.9h1.8M433.3,336.9h1.8M438.5,331.8V336.8M437.6,331.8h1.8M437.6,336.8h1.8M442.9,331.8V336.8M442.0,331.8h1.8M442.0,336.8h1.8M447.2,331.6V336.6M446.3,331.6h1.8M446.3,336.6h1.8M451.5,331.4V336.4M450.6,331.4h1.8M450.6,336.4h1.8M455.9,331.4V336.4M455.0,331.4h1.8M455.0,336.4h1.8M460.2,331.3V336.3M459.3,331.3h1.8M459.3,336.3h1.8M464.5,331.2V336.2M463.6,331.2h1.8M463.6,336.2h1.8M468.9,331.5V336.5M468.0,331.5h1.8M468.0,336.5h1.8M473.2,331.3V336.3M472.3,331.3h1.8M472.3,336.3h1.8M477.6,331.1V336.1M476.7,331.1h1.8M476.7,336.1h1.8M481.9,331.2V336.2M481.0,331.2h1.8M481.0,336.2h1.8M486.2,331.1V336.1M485.3,331.1h1.8M485.3,336.1h1.8M490.6,330.9V335.9M489.7,330.9h1.8M489.7,335.9h1.8M494.9,331.1V336.1M494.0,331.1h1.8M494.0,336.1h1.8M499.2,330.8V335.8M498.3,330.8h1.8M498.3,335.8h1.8M503.6,330.9V335.9M502.7,330.9h1.8M502.7,335.9h1.8M507.9,330.4V335.4M507.0,330.4h1.8M507.0,335.4h1.8M512.2,330.2V335.2M511.3,330.2h1.8M511.3,335.2h1.8M516.6,330.0V335.0M515.7,330.0h1.8M515.7,335.0h1.8M520.9,330.1V335.1M520.0,330.1h1.8M520.0,335.1h1.8M525.2,329.9V334.9M524.3,329.9h1.8M524.3,334.9h1.8M529.6,329.6V334.6M528.7,329.6h1.8M528.7,334.6h1.8M533.9,329.3V334.3M533.0,329.3h1.8M533.0,334.3h1.8M538.2,329.3V334.3M537.3,329.3h1.8M537.3,334.3h1.8M542.6,329.3V334.3M541.7,329.3h1.8M541.7,334.3h1.8M546.9,328.9V333.9M546.0,328.9h1.8M546.0,333.9h1.8" stroke="#444" stroke-width="0.5" fill="none" opacity="0.35"/>
<polyline points="364.9,334.7 369.2,334.7 373.5,334.5 377.9,334.7 382.2,334.8 386.5,334.7 390.9,335.0 395.2,334.9 399.5,334.9 403.9,335.0 408.2,334.9 412.5,334.8 416.9,334.8 421.2,334.6 425.5,334.5 429.9,334.3 434.2,334.4 438.5,334.3 442.9,334.3 447.2,334.1 451.5,333.9 455.9,333.9 460.2,333.8 464.5,333.7 468.9,334.0 473.2,333.8 477.6,333.6 481.9,333.7 486.2,333.6 490.6,333.4 494.9,333.6 499.2,333.3 503.6,333.4 507.9,332.9 512.2,332.7 516.6,332.5 520.9,332.6 525.2,332.4 529.6,332.1 533.9,331.8 538.2,331.8 542.6,331.8 546.9,331.4" fill="none" stroke="#ea0000" stroke-width="2.2" stroke-linejoin="round" stroke-linecap="round" />
<path d="M364.9,320.7V325.7M364.0,320.7h1.8M364.0,325.7h1.8M369.2,320.8V325.8M368.3,320.8h1.8M368.3,325.8h1.8M373.5,320.9V325.9M372.6,320.9h1.8M372.6,325.9h1.8M377.9,320.9V325.9M377.0,320.9h1.8M377.0,325.9h1.8M382.2,321.0V326.0M381.3,321.0h1.8M381.3,326.0h1.8M386.5,321.3V326.3M385.6,321.3h1.8M385.6,326.3h1.8M390.9,321.1V326.1M390.0,321.1h1.8M390.0,326.1h1.8M395.2,321.3V326.3M394.3,321.3h1.8M394.3,326.3h1.8M399.5,321.3V326.3M398.6,321.3h1.8M398.6,326.3h1.8M403.9,321.4V326.4M403.0,321.4h1.8M403.0,326.4h1.8M408.2,321.6V326.6M407.3,321.6h1.8M407.3,326.6h1.8M412.5,321.3V326.3M411.6,321.3h1.8M411.6,326.3h1.8M416.9,321.6V326.6M416.0,321.6h1.8M416.0,326.6h1.8M421.2,321.5V326.5M420.3,321.5h1.8M420.3,326.5h1.8M425.5,321.7V326.7M424.6,321.7h1.8M424.6,326.7h1.8M429.9,321.6V326.6M429.0,321.6h1.8M429.0,326.6h1.8M434.2,321.6V326.6M433.3,321.6h1.8M433.3,326.6h1.8M438.5,321.6V326.6M437.6,321.6h1.8M437.6,326.6h1.8M442.9,321.3V326.3M442.0,321.3h1.8M442.0,326.3h1.8M447.2,321.3V326.3M446.3,321.3h1.8M446.3,326.3h1.8M451.5,321.3V326.3M450.6,321.3h1.8M450.6,326.3h1.8M455.9,321.3V326.3M455.0,321.3h1.8M455.0,326.3h1.8M460.2,321.3V326.3M459.3,321.3h1.8M459.3,326.3h1.8M464.5,321.3V326.3M463.6,321.3h1.8M463.6,326.3h1.8M468.9,321.2V326.2M468.0,321.2h1.8M468.0,326.2h1.8M473.2,321.3V326.3M472.3,321.3h1.8M472.3,326.3h1.8M477.6,321.1V326.1M476.7,321.1h1.8M476.7,326.1h1.8M481.9,320.9V325.9M481.0,320.9h1.8M481.0,325.9h1.8M486.2,321.0V326.0M485.3,321.0h1.8M485.3,326.0h1.8M490.6,321.0V326.0M489.7,321.0h1.8M489.7,326.0h1.8M494.9,321.0V326.0M494.0,321.0h1.8M494.0,326.0h1.8M499.2,320.8V325.8M498.3,320.8h1.8M498.3,325.8h1.8M503.6,320.8V325.8M502.7,320.8h1.8M502.7,325.8h1.8M507.9,320.8V325.8M507.0,320.8h1.8M507.0,325.8h1.8M512.2,320.7V325.7M511.3,320.7h1.8M511.3,325.7h1.8M516.6,320.9V325.9M515.7,320.9h1.8M515.7,325.9h1.8M520.9,320.5V325.5M520.0,320.5h1.8M520.0,325.5h1.8M525.2,320.7V325.7M524.3,320.7h1.8M524.3,325.7h1.8M529.6,320.6V325.6M528.7,320.6h1.8M528.7,325.6h1.8M533.9,320.5V325.5M533.0,320.5h1.8M533.0,325.5h1.8M538.2,320.6V325.6M537.3,320.6h1.8M537.3,325.6h1.8M542.6,320.5V325.5M541.7,320.5h1.8M541.7,325.5h1.8M546.9,320.7V325.7M546.0,320.7h1.8M546.0,325.7h1.8" stroke="#444" stroke-width="0.5" fill="none" opacity="0.35"/>
<polyline points="364.9,323.2 369.2,323.3 373.5,323.4 377.9,323.4 382.2,323.5 386.5,323.8 390.9,323.6 395.2,323.8 399.5,323.8 403.9,323.9 408.2,324.1 412.5,323.8 416.9,324.1 421.2,324.0 425.5,324.2 429.9,324.1 434.2,324.1 438.5,324.1 442.9,323.8 447.2,323.8 451.5,323.8 455.9,323.8 460.2,323.8 464.5,323.8 468.9,323.7 473.2,323.8 477.6,323.6 481.9,323.4 486.2,323.5 490.6,323.5 494.9,323.5 499.2,323.3 503.6,323.3 507.9,323.3 512.2,323.2 516.6,323.4 520.9,323.0 525.2,323.2 529.6,323.1 533.9,323.0 538.2,323.1 542.6,323.0 546.9,323.2" fill="none" stroke="#969b0a" stroke-width="2.2" stroke-linejoin="round" stroke-linecap="round" />
<path d="M364.9,324.7V329.7M364.0,324.7h1.8M364.0,329.7h1.8M369.2,324.5V329.5M368.3,324.5h1.8M368.3,329.5h1.8M373.5,324.6V329.6M372.6,324.6h1.8M372.6,329.6h1.8M377.9,324.6V329.6M377.0,324.6h1.8M377.0,329.6h1.8M382.2,324.3V329.3M381.3,324.3h1.8M381.3,329.3h1.8M386.5,324.5V329.5M385.6,324.5h1.8M385.6,329.5h1.8M390.9,324.5V329.5M390.0,324.5h1.8M390.0,329.5h1.8M395.2,324.5V329.5M394.3,324.5h1.8M394.3,329.5h1.8M399.5,324.4V329.4M398.6,324.4h1.8M398.6,329.4h1.8M403.9,324.2V329.2M403.0,324.2h1.8M403.0,329.2h1.8M408.2,324.0V329.0M407.3,324.0h1.8M407.3,329.0h1.8M412.5,324.2V329.2M411.6,324.2h1.8M411.6,329.2h1.8M416.9,323.9V328.9M416.0,323.9h1.8M416.0,328.9h1.8M421.2,324.0V329.0M420.3,324.0h1.8M420.3,329.0h1.8M425.5,323.9V328.9M424.6,323.9h1.8M424.6,328.9h1.8M429.9,323.9V328.9M429.0,323.9h1.8M429.0,328.9h1.8M434.2,323.6V328.6M433.3,323.6h1.8M433.3,328.6h1.8M438.5,323.5V328.5M437.6,323.5h1.8M437.6,328.5h1.8M442.9,323.6V328.6M442.0,323.6h1.8M442.0,328.6h1.8M447.2,323.4V328.4M446.3,323.4h1.8M446.3,328.4h1.8M451.5,323.2V328.2M450.6,323.2h1.8M450.6,328.2h1.8M455.9,323.1V328.1M455.0,323.1h1.8M455.0,328.1h1.8M460.2,323.0V328.0M459.3,323.0h1.8M459.3,328.0h1.8M464.5,322.9V327.9M463.6,322.9h1.8M463.6,327.9h1.8M468.9,322.7V327.7M468.0,322.7h1.8M468.0,327.7h1.8M473.2,322.5V327.5M472.3,322.5h1.8M472.3,327.5h1.8M477.6,322.7V327.7M476.7,322.7h1.8M476.7,327.7h1.8M481.9,322.5V327.5M481.0,322.5h1.8M481.0,327.5h1.8M486.2,322.3V327.3M485.3,322.3h1.8M485.3,327.3h1.8M490.6,322.0V327.0M489.7,322.0h1.8M489.7,327.0h1.8M494.9,321.8V326.8M494.0,321.8h1.8M494.0,326.8h1.8M499.2,321.9V326.9M498.3,321.9h1.8M498.3,326.9h1.8M503.6,321.9V326.9M502.7,321.9h1.8M502.7,326.9h1.8M507.9,321.7V326.7M507.0,321.7h1.8M507.0,326.7h1.8M512.2,321.5V326.5M511.3,321.5h1.8M511.3,326.5h1.8M516.6,321.6V326.6M515.7,321.6h1.8M515.7,326.6h1.8M520.9,321.5V326.5M520.0,321.5h1.8M520.0,326.5h1.8M525.2,321.4V326.4M524.3,321.4h1.8M524.3,326.4h1.8M529.6,321.4V326.4M528.7,321.4h1.8M528.7,326.4h1.8M533.9,321.3V326.3M533.0,321.3h1.8M533.0,326.3h1.8M538.2,321.3V326.3M537.3,321.3h1.8M537.3,326.3h1.8M542.6,321.3V326.3M541.7,321.3h1.8M541.7,326.3h1.8M546.9,321.3V326.3M546.0,321.3h1.8M546.0,326.3h1.8" stroke="#444" stroke-width="0.5" fill="none" opacity="0.35"/>
<polyline points="364.9,327.2 369.2,327.0 373.5,327.1 377.9,327.1 382.2,326.8 386.5,327.0 390.9,327.0 395.2,327.0 399.5,326.9 403.9,326.7 408.2,326.5 412.5,326.7 416.9,326.4 421.2,326.5 425.5,326.4 429.9,326.4 434.2,326.1 438.5,326.0 442.9,326.1 447.2,325.9 451.5,325.7 455.9,325.6 460.2,325.5 464.5,325.4 468.9,325.2 473.2,325.0 477.6,325.2 481.9,325.0 486.2,324.8 490.6,324.5 494.9,324.3 499.2,324.4 503.6,324.4 507.9,324.2 512.2,324.0 516.6,324.1 520.9,324.0 525.2,323.9 529.6,323.9 533.9,323.8 538.2,323.8 542.6,323.8 546.9,323.8" fill="none" stroke="#f88008" stroke-width="2.2" stroke-linejoin="round" stroke-linecap="round" />
<path d="M364.9,321.9V326.9M364.0,321.9h1.8M364.0,326.9h1.8M369.2,322.1V327.1M368.3,322.1h1.8M368.3,327.1h1.8M373.5,322.3V327.3M372.6,322.3h1.8M372.6,327.3h1.8M377.9,322.2V327.2M377.0,322.2h1.8M377.0,327.2h1.8M382.2,322.1V327.1M381.3,322.1h1.8M381.3,327.1h1.8M386.5,322.2V327.2M385.6,322.2h1.8M385.6,327.2h1.8M390.9,321.9V326.9M390.0,321.9h1.8M390.0,326.9h1.8M395.2,322.2V327.2M394.3,322.2h1.8M394.3,327.2h1.8M399.5,322.1V327.1M398.6,322.1h1.8M398.6,327.1h1.8M403.9,322.0V327.0M403.0,322.0h1.8M403.0,327.0h1.8M408.2,321.7V326.7M407.3,321.7h1.8M407.3,326.7h1.8M412.5,321.7V326.7M411.6,321.7h1.8M411.6,326.7h1.8M416.9,321.4V326.4M416.0,321.4h1.8M416.0,326.4h1.8M421.2,321.4V326.4M420.3,321.4h1.8M420.3,326.4h1.8M425.5,321.1V326.1M424.6,321.1h1.8M424.6,326.1h1.8M429.9,321.2V326.2M429.0,321.2h1.8M429.0,326.2h1.8M434.2,321.0V326.0M433.3,321.0h1.8M433.3,326.0h1.8M438.5,320.7V325.7M437.6,320.7h1.8M437.6,325.7h1.8M442.9,320.8V325.8M442.0,320.8h1.8M442.0,325.8h1.8M447.2,320.6V325.6M446.3,320.6h1.8M446.3,325.6h1.8M451.5,320.6V325.6M450.6,320.6h1.8M450.6,325.6h1.8M455.9,320.4V325.4M455.0,320.4h1.8M455.0,325.4h1.8M460.2,320.6V325.6M459.3,320.6h1.8M459.3,325.6h1.8M464.5,320.6V325.6M463.6,320.6h1.8M463.6,325.6h1.8M468.9,320.5V325.5M468.0,320.5h1.8M468.0,325.5h1.8M473.2,320.2V325.2M472.3,320.2h1.8M472.3,325.2h1.8M477.6,320.5V325.5M476.7,320.5h1.8M476.7,325.5h1.8M481.9,320.1V325.1M481.0,320.1h1.8M481.0,325.1h1.8M486.2,320.2V325.2M485.3,320.2h1.8M485.3,325.2h1.8M490.6,320.0V325.0M489.7,320.0h1.8M489.7,325.0h1.8M494.9,319.8V324.8M494.0,319.8h1.8M494.0,324.8h1.8M499.2,319.8V324.8M498.3,319.8h1.8M498.3,324.8h1.8M503.6,319.9V324.9M502.7,319.9h1.8M502.7,324.9h1.8M507.9,319.7V324.7M507.0,319.7h1.8M507.0,324.7h1.8M512.2,319.4V324.4M511.3,319.4h1.8M511.3,324.4h1.8M516.6,319.5V324.5M515.7,319.5h1.8M515.7,324.5h1.8M520.9,319.2V324.2M520.0,319.2h1.8M520.0,324.2h1.8M525.2,319.4V324.4M524.3,319.4h1.8M524.3,324.4h1.8M529.6,319.2V324.2M528.7,319.2h1.8M528.7,324.2h1.8M533.9,319.0V324.0M533.0,319.0h1.8M533.0,324.0h1.8M538.2,319.3V324.3M537.3,319.3h1.8M537.3,324.3h1.8M542.6,318.9V323.9M541.7,318.9h1.8M541.7,323.9h1.8M546.9,318.9V323.9M546.0,318.9h1.8M546.0,323.9h1.8" stroke="#444" stroke-width="0.5" fill="none" opacity="0.35"/>
<polyline points="364.9,324.4 369.2,324.6 373.5,324.8 377.9,324.7 382.2,324.6 386.5,324.7 390.9,324.4 395.2,324.7 399.5,324.6 403.9,324.5 408.2,324.2 412.5,324.2 416.9,323.9 421.2,323.9 425.5,323.6 429.9,323.7 434.2,323.5 438.5,323.2 442.9,323.3 447.2,323.1 451.5,323.1 455.9,322.9 460.2,323.1 464.5,323.1 468.9,323.0 473.2,322.7 477.6,323.0 481.9,322.6 486.2,322.7 490.6,322.5 494.9,322.3 499.2,322.3 503.6,322.4 507.9,322.2 512.2,321.9 516.6,322.0 520.9,321.7 525.2,321.9 529.6,321.7 533.9,321.5 538.2,321.8 542.6,321.4 546.9,321.4" fill="none" stroke="#10b014" stroke-width="2.2" stroke-linejoin="round" stroke-linecap="round" />
<path d="M364.9,318.1V323.1M364.0,318.1h1.8M364.0,323.1h1.8M369.2,317.8V322.8M368.3,317.8h1.8M368.3,322.8h1.8M373.5,317.9V322.9M372.6,317.9h1.8M372.6,322.9h1.8M377.9,318.0V323.0M377.0,318.0h1.8M377.0,323.0h1.8M382.2,317.9V322.9M381.3,317.9h1.8M381.3,322.9h1.8M386.5,317.8V322.8M385.6,317.8h1.8M385.6,322.8h1.8M390.9,317.9V322.9M390.0,317.9h1.8M390.0,322.9h1.8M395.2,317.9V322.9M394.3,317.9h1.8M394.3,322.9h1.8M399.5,317.7V322.7M398.6,317.7h1.8M398.6,322.7h1.8M403.9,317.7V322.7M403.0,317.7h1.8M403.0,322.7h1.8M408.2,317.4V322.4M407.3,317.4h1.8M407.3,322.4h1.8M412.5,317.4V322.4M411.6,317.4h1.8M411.6,322.4h1.8M416.9,317.5V322.5M416.0,317.5h1.8M416.0,322.5h1.8M421.2,317.4V322.4M420.3,317.4h1.8M420.3,322.4h1.8M425.5,316.9V321.9M424.6,316.9h1.8M424.6,321.9h1.8M429.9,316.9V321.9M429.0,316.9h1.8M429.0,321.9h1.8M434.2,316.8V321.8M433.3,316.8h1.8M433.3,321.8h1.8M438.5,316.9V321.9M437.6,316.9h1.8M437.6,321.9h1.8M442.9,316.6V321.6M442.0,316.6h1.8M442.0,321.6h1.8M447.2,316.5V321.5M446.3,316.5h1.8M446.3,321.5h1.8M451.5,316.6V321.6M450.6,316.6h1.8M450.6,321.6h1.8M455.9,316.3V321.3M455.0,316.3h1.8M455.0,321.3h1.8M460.2,316.6V321.6M459.3,316.6h1.8M459.3,321.6h1.8M464.5,317.8V322.8M463.6,317.8h1.8M463.6,322.8h1.8M468.9,317.9V322.9M468.0,317.9h1.8M468.0,322.9h1.8M473.2,317.7V322.7M472.3,317.7h1.8M472.3,322.7h1.8M477.6,317.2V322.2M476.7,317.2h1.8M476.7,322.2h1.8M481.9,317.2V322.2M481.0,317.2h1.8M481.0,322.2h1.8M486.2,316.8V321.8M485.3,316.8h1.8M485.3,321.8h1.8M490.6,316.5V321.5M489.7,316.5h1.8M489.7,321.5h1.8M494.9,316.2V321.2M494.0,316.2h1.8M494.0,321.2h1.8M499.2,316.2V321.2M498.3,316.2h1.8M498.3,321.2h1.8M503.6,316.1V321.1M502.7,316.1h1.8M502.7,321.1h1.8M507.9,315.9V320.9M507.0,315.9h1.8M507.0,320.9h1.8M512.2,316.1V321.1M511.3,316.1h1.8M511.3,321.1h1.8M516.6,315.8V320.8M515.7,315.8h1.8M515.7,320.8h1.8M520.9,315.8V320.8M520.0,315.8h1.8M520.0,320.8h1.8M525.2,315.6V320.6M524.3,315.6h1.8M524.3,320.6h1.8M529.6,315.6V320.6M528.7,315.6h1.8M528.7,320.6h1.8M533.9,315.7V320.7M533.0,315.7h1.8M533.0,320.7h1.8M538.2,315.4V320.4M537.3,315.4h1.8M537.3,320.4h1.8M542.6,315.1V320.1M541.7,315.1h1.8M541.7,320.1h1.8M546.9,315.0V320.0M546.0,315.0h1.8M546.0,320.0h1.8" stroke="#444" stroke-width="0.5" fill="none" opacity="0.35"/>
<polyline points="364.9,320.6 369.2,320.3 373.5,320.4 377.9,320.5 382.2,320.4 386.5,320.3 390.9,320.4 395.2,320.4 399.5,320.2 403.9,320.2 408.2,319.9 412.5,319.9 416.9,320.0 421.2,319.9 425.5,319.4 429.9,319.4 434.2,319.3 438.5,319.4 442.9,319.1 447.2,319.0 451.5,319.1 455.9,318.8 460.2,319.1 464.5,320.3 468.9,320.4 473.2,320.2 477.6,319.7 481.9,319.7 486.2,319.3 490.6,319.0 494.9,318.7 499.2,318.7 503.6,318.6 507.9,318.4 512.2,318.6 516.6,318.3 520.9,318.3 525.2,318.1 529.6,318.1 533.9,318.2 538.2,317.9 542.6,317.6 546.9,317.5" fill="none" stroke="#0aafaf" stroke-width="2.2" stroke-linejoin="round" stroke-linecap="round" />
<path d="M364.9,315.4V317.8M364.0,315.4h1.8M364.0,317.8h1.8M369.2,315.1V317.5M368.3,315.1h1.8M368.3,317.5h1.8M373.5,315.1V317.5M372.6,315.1h1.8M372.6,317.5h1.8M377.9,314.7V317.1M377.0,314.7h1.8M377.0,317.1h1.8M382.2,314.8V317.2M381.3,314.8h1.8M381.3,317.2h1.8M386.5,314.6V317.0M385.6,314.6h1.8M385.6,317.0h1.8M390.9,314.5V316.9M390.0,314.5h1.8M390.0,316.9h1.8M395.2,314.0V316.4M394.3,314.0h1.8M394.3,316.4h1.8M399.5,313.6V316.0M398.6,313.6h1.8M398.6,316.0h1.8M403.9,313.4V315.8M403.0,313.4h1.8M403.0,315.8h1.8M408.2,313.3V315.7M407.3,313.3h1.8M407.3,315.7h1.8M412.5,312.8V315.2M411.6,312.8h1.8M411.6,315.2h1.8M416.9,312.6V315.0M416.0,312.6h1.8M416.0,315.0h1.8M421.2,312.7V315.1M420.3,312.7h1.8M420.3,315.1h1.8M425.5,314.5V316.9M424.6,314.5h1.8M424.6,316.9h1.8M429.9,314.8V317.2M429.0,314.8h1.8M429.0,317.2h1.8M434.2,314.5V316.9M433.3,314.5h1.8M433.3,316.9h1.8M438.5,314.2V316.6M437.6,314.2h1.8M437.6,316.6h1.8M442.9,314.0V316.4M442.0,314.0h1.8M442.0,316.4h1.8M447.2,313.7V316.1M446.3,313.7h1.8M446.3,316.1h1.8M451.5,313.5V315.9M450.6,313.5h1.8M450.6,315.9h1.8M455.9,313.5V315.9M455.0,313.5h1.8M455.0,315.9h1.8M460.2,313.3V315.7M459.3,313.3h1.8M459.3,315.7h1.8M464.5,313.3V315.7M463.6,313.3h1.8M463.6,315.7h1.8M468.9,313.4V315.8M468.0,313.4h1.8M468.0,315.8h1.8M473.2,313.5V315.9M472.3,313.5h1.8M472.3,315.9h1.8M477.6,313.3V315.7M476.7,313.3h1.8M476.7,315.7h1.8M481.9,313.7V316.1M481.0,313.7h1.8M481.0,316.1h1.8M486.2,313.4V315.8M485.3,313.4h1.8M485.3,315.8h1.8M490.6,313.4V315.8M489.7,313.4h1.8M489.7,315.8h1.8M494.9,313.4V315.8M494.0,313.4h1.8M494.0,315.8h1.8M499.2,313.1V315.5M498.3,313.1h1.8M498.3,315.5h1.8M503.6,313.3V315.7M502.7,313.3h1.8M502.7,315.7h1.8M507.9,313.3V315.7M507.0,313.3h1.8M507.0,315.7h1.8M512.2,313.0V315.4M511.3,313.0h1.8M511.3,315.4h1.8M516.6,312.8V315.2M515.7,312.8h1.8M515.7,315.2h1.8M520.9,313.0V315.4M520.0,313.0h1.8M520.0,315.4h1.8M525.2,313.0V315.4M524.3,313.0h1.8M524.3,315.4h1.8M529.6,312.9V315.3M528.7,312.9h1.8M528.7,315.3h1.8M533.9,312.3V314.7M533.0,312.3h1.8M533.0,314.7h1.8M538.2,311.9V314.3M537.3,311.9h1.8M537.3,314.3h1.8M542.6,311.2V313.6M541.7,311.2h1.8M541.7,313.6h1.8M546.9,310.8V313.2M546.0,310.8h1.8M546.0,313.2h1.8" stroke="#666" stroke-width="0.5" fill="none" opacity="0.45"/>
<polyline points="364.9,316.6 369.2,316.3 373.5,316.3 377.9,315.9 382.2,316.0 386.5,315.8 390.9,315.7 395.2,315.2 399.5,314.8 403.9,314.6 408.2,314.5 412.5,314.0 416.9,313.8 421.2,313.9 425.5,315.7 429.9,316.0 434.2,315.7 438.5,315.4 442.9,315.2 447.2,314.9 451.5,314.7 455.9,314.7 460.2,314.5 464.5,314.5 468.9,314.6 473.2,314.7 477.6,314.5 481.9,314.9 486.2,314.6 490.6,314.6 494.9,314.6 499.2,314.3 503.6,314.5 507.9,314.5 512.2,314.2 516.6,314.0 520.9,314.2 525.2,314.2 529.6,314.1 533.9,313.5 538.2,313.1 542.6,312.4 546.9,312.0" fill="none" stroke="#5080f5" stroke-width="2.2" stroke-linejoin="round" stroke-linecap="round" />
<path d="M364.9,305.8V308.2M364.0,305.8h1.8M364.0,308.2h1.8M369.2,306.6V309.0M368.3,306.6h1.8M368.3,309.0h1.8M373.5,305.8V308.2M372.6,305.8h1.8M372.6,308.2h1.8M377.9,305.7V308.1M377.0,305.7h1.8M377.0,308.1h1.8M382.2,304.9V307.3M381.3,304.9h1.8M381.3,307.3h1.8M386.5,305.5V307.9M385.6,305.5h1.8M385.6,307.9h1.8M390.9,305.4V307.8M390.0,305.4h1.8M390.0,307.8h1.8M395.2,305.8V308.2M394.3,305.8h1.8M394.3,308.2h1.8M399.5,305.9V308.3M398.6,305.9h1.8M398.6,308.3h1.8M403.9,305.3V307.7M403.0,305.3h1.8M403.0,307.7h1.8M408.2,304.4V306.8M407.3,304.4h1.8M407.3,306.8h1.8M412.5,304.2V306.6M411.6,304.2h1.8M411.6,306.6h1.8M416.9,303.7V306.1M416.0,303.7h1.8M416.0,306.1h1.8M421.2,304.7V307.1M420.3,304.7h1.8M420.3,307.1h1.8M425.5,307.1V309.5M424.6,307.1h1.8M424.6,309.5h1.8M429.9,307.0V309.4M429.0,307.0h1.8M429.0,309.4h1.8M434.2,306.4V308.8M433.3,306.4h1.8M433.3,308.8h1.8M438.5,305.7V308.1M437.6,305.7h1.8M437.6,308.1h1.8M442.9,305.9V308.3M442.0,305.9h1.8M442.0,308.3h1.8M447.2,306.4V308.8M446.3,306.4h1.8M446.3,308.8h1.8M451.5,305.1V307.5M450.6,305.1h1.8M450.6,307.5h1.8M455.9,305.8V308.2M455.0,305.8h1.8M455.0,308.2h1.8M460.2,306.1V308.5M459.3,306.1h1.8M459.3,308.5h1.8M464.5,305.6V308.0M463.6,305.6h1.8M463.6,308.0h1.8M468.9,305.2V307.6M468.0,305.2h1.8M468.0,307.6h1.8M473.2,306.0V308.4M472.3,306.0h1.8M472.3,308.4h1.8M477.6,305.9V308.3M476.7,305.9h1.8M476.7,308.3h1.8M481.9,305.2V307.6M481.0,305.2h1.8M481.0,307.6h1.8M486.2,304.9V307.3M485.3,304.9h1.8M485.3,307.3h1.8M490.6,304.9V307.3M489.7,304.9h1.8M489.7,307.3h1.8M494.9,304.7V307.1M494.0,304.7h1.8M494.0,307.1h1.8M499.2,304.5V306.9M498.3,304.5h1.8M498.3,306.9h1.8M503.6,304.1V306.5M502.7,304.1h1.8M502.7,306.5h1.8M507.9,303.7V306.1M507.0,303.7h1.8M507.0,306.1h1.8M512.2,303.1V305.5M511.3,303.1h1.8M511.3,305.5h1.8M516.6,302.7V305.1M515.7,302.7h1.8M515.7,305.1h1.8M520.9,302.8V305.2M520.0,302.8h1.8M520.0,305.2h1.8M525.2,303.5V305.9M524.3,303.5h1.8M524.3,305.9h1.8M529.6,303.0V305.4M528.7,303.0h1.8M528.7,305.4h1.8M533.9,303.3V305.7M533.0,303.3h1.8M533.0,305.7h1.8M538.2,303.4V305.8M537.3,303.4h1.8M537.3,305.8h1.8M542.6,302.8V305.2M541.7,302.8h1.8M541.7,305.2h1.8M546.9,302.3V304.7M546.0,302.3h1.8M546.0,304.7h1.8" stroke="#666" stroke-width="0.5" fill="none" opacity="0.45"/>
<polyline points="364.9,307.0 369.2,307.8 373.5,307.0 377.9,306.9 382.2,306.1 386.5,306.7 390.9,306.6 395.2,307.0 399.5,307.1 403.9,306.5 408.2,305.6 412.5,305.4 416.9,304.9 421.2,305.9 425.5,308.3 429.9,308.2 434.2,307.6 438.5,306.9 442.9,307.1 447.2,307.6 451.5,306.3 455.9,307.0 460.2,307.3 464.5,306.8 468.9,306.4 473.2,307.2 477.6,307.1 481.9,306.4 486.2,306.1 490.6,306.1 494.9,305.9 499.2,305.7 503.6,305.3 507.9,304.9 512.2,304.3 516.6,303.9 520.9,304.0 525.2,304.7 529.6,304.2 533.9,304.5 538.2,304.6 542.6,304.0 546.9,303.5" fill="none" stroke="#05f014" stroke-width="2.2" stroke-linejoin="round" stroke-linecap="round" />
<path d="M364.9,302.1V304.5M364.0,302.1h1.8M364.0,304.5h1.8M369.2,301.8V304.2M368.3,301.8h1.8M368.3,304.2h1.8M373.5,301.6V304.0M372.6,301.6h1.8M372.6,304.0h1.8M377.9,301.8V304.2M377.0,301.8h1.8M377.0,304.2h1.8M382.2,302.4V304.8M381.3,302.4h1.8M381.3,304.8h1.8M386.5,301.7V304.1M385.6,301.7h1.8M385.6,304.1h1.8M390.9,301.4V303.8M390.0,301.4h1.8M390.0,303.8h1.8M395.2,300.8V303.2M394.3,300.8h1.8M394.3,303.2h1.8M399.5,301.9V304.3M398.6,301.9h1.8M398.6,304.3h1.8M403.9,300.5V302.9M403.0,300.5h1.8M403.0,302.9h1.8M408.2,300.8V303.2M407.3,300.8h1.8M407.3,303.2h1.8M412.5,301.4V303.8M411.6,301.4h1.8M411.6,303.8h1.8M416.9,300.9V303.3M416.0,300.9h1.8M416.0,303.3h1.8M421.2,300.4V302.8M420.3,300.4h1.8M420.3,302.8h1.8M425.5,302.2V304.6M424.6,302.2h1.8M424.6,304.6h1.8M429.9,301.5V303.9M429.0,301.5h1.8M429.0,303.9h1.8M434.2,301.0V303.4M433.3,301.0h1.8M433.3,303.4h1.8M438.5,301.5V303.9M437.6,301.5h1.8M437.6,303.9h1.8M442.9,300.9V303.3M442.0,300.9h1.8M442.0,303.3h1.8M447.2,300.7V303.1M446.3,300.7h1.8M446.3,303.1h1.8M451.5,300.9V303.3M450.6,300.9h1.8M450.6,303.3h1.8M455.9,302.1V304.5M455.0,302.1h1.8M455.0,304.5h1.8M460.2,300.8V303.2M459.3,300.8h1.8M459.3,303.2h1.8M464.5,299.9V302.3M463.6,299.9h1.8M463.6,302.3h1.8M468.9,299.5V301.9M468.0,299.5h1.8M468.0,301.9h1.8M473.2,300.1V302.5M472.3,300.1h1.8M472.3,302.5h1.8M477.6,299.3V301.7M476.7,299.3h1.8M476.7,301.7h1.8M481.9,297.8V300.2M481.0,297.8h1.8M481.0,300.2h1.8M486.2,300.3V302.7M485.3,300.3h1.8M485.3,302.7h1.8M490.6,302.0V304.4M489.7,302.0h1.8M489.7,304.4h1.8M494.9,302.5V304.9M494.0,302.5h1.8M494.0,304.9h1.8M499.2,301.0V303.4M498.3,301.0h1.8M498.3,303.4h1.8M503.6,299.2V301.6M502.7,299.2h1.8M502.7,301.6h1.8M507.9,297.1V299.5M507.0,297.1h1.8M507.0,299.5h1.8M512.2,295.0V297.4M511.3,295.0h1.8M511.3,297.4h1.8M516.6,296.2V298.6M515.7,296.2h1.8M515.7,298.6h1.8M520.9,298.9V301.3M520.0,298.9h1.8M520.0,301.3h1.8M525.2,301.3V303.7M524.3,301.3h1.8M524.3,303.7h1.8M529.6,300.3V302.7M528.7,300.3h1.8M528.7,302.7h1.8M533.9,298.4V300.8M533.0,298.4h1.8M533.0,300.8h1.8M538.2,296.8V299.2M537.3,296.8h1.8M537.3,299.2h1.8M542.6,294.2V296.6M541.7,294.2h1.8M541.7,296.6h1.8M546.9,295.5V297.9M546.0,295.5h1.8M546.0,297.9h1.8" stroke="#666" stroke-width="0.5" fill="none" opacity="0.45"/>
<polyline points="364.9,303.3 369.2,303.0 373.5,302.8 377.9,303.0 382.2,303.6 386.5,302.9 390.9,302.6 395.2,302.0 399.5,303.1 403.9,301.7 408.2,302.0 412.5,302.6 416.9,302.1 421.2,301.6 425.5,303.4 429.9,302.7 434.2,302.2 438.5,302.7 442.9,302.1 447.2,301.9 451.5,302.1 455.9,303.3 460.2,302.0 464.5,301.1 468.9,300.7 473.2,301.3 477.6,300.5 481.9,299.0 486.2,301.5 490.6,303.2 494.9,303.7 499.2,302.2 503.6,300.4 507.9,298.3 512.2,296.2 516.6,297.4 520.9,300.1 525.2,302.5 529.6,301.5 533.9,299.6 538.2,298.0 542.6,295.4 546.9,296.7" fill="none" stroke="#7d4b05" stroke-width="2.2" stroke-linejoin="round" stroke-linecap="round" />
<path d="M364.9,293.2V303.2M363.8,293.2h2.2M363.8,303.2h2.2M369.2,290.6V302.5M368.1,290.6h2.2M368.1,302.5h2.2M373.5,289.8V300.9M372.4,289.8h2.2M372.4,300.9h2.2M377.9,292.7V301.3M376.8,292.7h2.2M376.8,301.3h2.2M382.2,294.1V302.3M381.1,294.1h2.2M381.1,302.3h2.2M386.5,291.8V302.2M385.4,291.8h2.2M385.4,302.2h2.2M390.9,290.0V302.0M389.8,290.0h2.2M389.8,302.0h2.2M395.2,290.6V301.3M394.1,290.6h2.2M394.1,301.3h2.2M399.5,291.9V300.2M398.4,291.9h2.2M398.4,300.2h2.2M403.9,291.1V299.5M402.8,291.1h2.2M402.8,299.5h2.2M408.2,290.7V301.6M407.1,290.7h2.2M407.1,301.6h2.2M412.5,290.7V302.7M411.4,290.7h2.2M411.4,302.7h2.2M416.9,290.5V300.7M415.8,290.5h2.2M415.8,300.7h2.2M421.2,290.7V298.9M420.1,290.7h2.2M420.1,298.9h2.2M425.5,290.7V299.5M424.4,290.7h2.2M424.4,299.5h2.2M429.9,288.4V299.7M428.8,288.4h2.2M428.8,299.7h2.2M434.2,287.8V299.7M433.1,287.8h2.2M433.1,299.7h2.2M438.5,284.2V294.0M437.4,284.2h2.2M437.4,294.0h2.2M442.9,285.3V293.4M441.8,285.3h2.2M441.8,293.4h2.2M447.2,283.8V293.0M446.1,283.8h2.2M446.1,293.0h2.2M451.5,282.3V293.9M450.4,282.3h2.2M450.4,293.9h2.2M455.9,282.6V294.2M454.8,282.6h2.2M454.8,294.2h2.2M460.2,282.7V292.0M459.1,282.7h2.2M459.1,292.0h2.2M464.5,282.7V290.7M463.4,282.7h2.2M463.4,290.7h2.2M468.9,282.4V291.9M467.8,282.4h2.2M467.8,291.9h2.2M473.2,282.0V293.7M472.1,282.0h2.2M472.1,293.7h2.2M477.6,281.1V292.5M476.5,281.1h2.2M476.5,292.5h2.2M481.9,281.0V290.0M480.8,281.0h2.2M480.8,290.0h2.2M486.2,283.3V291.4M485.1,283.3h2.2M485.1,291.4h2.2M490.6,282.1V292.1M489.5,282.1h2.2M489.5,292.1h2.2M494.9,280.8V292.7M493.8,280.8h2.2M493.8,292.7h2.2M499.2,281.0V292.0M498.1,281.0h2.2M498.1,292.0h2.2M503.6,283.1V291.7M502.5,283.1h2.2M502.5,291.7h2.2M507.9,283.2V291.4M506.8,283.2h2.2M506.8,291.4h2.2M512.2,279.9V290.4M511.1,279.9h2.2M511.1,290.4h2.2M516.6,279.7V291.7M515.5,279.7h2.2M515.5,291.7h2.2M520.9,280.9V291.5M519.8,280.9h2.2M519.8,291.5h2.2M525.2,282.8V291.2M524.1,282.8h2.2M524.1,291.2h2.2M529.6,282.6V291.1M528.5,282.6h2.2M528.5,291.1h2.2M533.9,281.6V292.5M532.8,281.6h2.2M532.8,292.5h2.2M538.2,281.2V293.1M537.1,281.2h2.2M537.1,293.1h2.2M542.6,280.6V290.8M541.5,280.6h2.2M541.5,290.8h2.2M546.9,280.0V288.1M545.8,280.0h2.2M545.8,288.1h2.2" stroke="#888" stroke-width="0.6" fill="none" opacity="0.65"/>
<polyline points="364.9,298.2 369.2,296.5 373.5,295.3 377.9,297.0 382.2,298.2 386.5,297.0 390.9,296.0 395.2,295.9 399.5,296.0 403.9,295.3 408.2,296.1 412.5,296.7 416.9,295.6 421.2,294.8 425.5,295.1 429.9,294.0 434.2,293.7 438.5,289.1 442.9,289.4 447.2,288.4 451.5,288.1 455.9,288.4 460.2,287.3 464.5,286.7 468.9,287.2 473.2,287.8 477.6,286.8 481.9,285.5 486.2,287.4 490.6,287.1 494.9,286.8 499.2,286.5 503.6,287.4 507.9,287.3 512.2,285.1 516.6,285.7 520.9,286.2 525.2,287.0 529.6,286.8 533.9,287.1 538.2,287.1 542.6,285.7 546.9,284.1" fill="none" stroke="#872de1" stroke-width="2.2" stroke-linejoin="round" stroke-linecap="round" />
<path d="M364.9,326.0V331.0M364.0,326.0h1.8M364.0,331.0h1.8M369.2,328.1V333.1M368.3,328.1h1.8M368.3,333.1h1.8M373.5,329.2V334.2M372.6,329.2h1.8M372.6,334.2h1.8M377.9,329.9V334.9M377.0,329.9h1.8M377.0,334.9h1.8M382.2,330.6V335.6M381.3,330.6h1.8M381.3,335.6h1.8M386.5,331.1V336.1M385.6,331.1h1.8M385.6,336.1h1.8M390.9,332.4V337.4M390.0,332.4h1.8M390.0,337.4h1.8M395.2,332.1V337.1M394.3,332.1h1.8M394.3,337.1h1.8M399.5,327.9V332.9M398.6,327.9h1.8M398.6,332.9h1.8M403.9,329.2V334.2M403.0,329.2h1.8M403.0,334.2h1.8M408.2,332.6V337.6M407.3,332.6h1.8M407.3,337.6h1.8M412.5,330.6V335.6M411.6,330.6h1.8M411.6,335.6h1.8M416.9,329.5V334.5M416.0,329.5h1.8M416.0,334.5h1.8M421.2,329.1V334.1M420.3,329.1h1.8M420.3,334.1h1.8M425.5,328.6V333.6M424.6,328.6h1.8M424.6,333.6h1.8M429.9,329.5V334.5M429.0,329.5h1.8M429.0,334.5h1.8M434.2,329.9V334.9M433.3,329.9h1.8M433.3,334.9h1.8M438.5,330.9V335.9M437.6,330.9h1.8M437.6,335.9h1.8M442.9,329.7V334.7M442.0,329.7h1.8M442.0,334.7h1.8M447.2,328.2V333.2M446.3,328.2h1.8M446.3,333.2h1.8M451.5,327.5V332.5M450.6,327.5h1.8M450.6,332.5h1.8M455.9,326.8V331.8M455.0,326.8h1.8M455.0,331.8h1.8M460.2,326.4V331.4M459.3,326.4h1.8M459.3,331.4h1.8M464.5,326.2V331.2M463.6,326.2h1.8M463.6,331.2h1.8M468.9,328.7V333.7M468.0,328.7h1.8M468.0,333.7h1.8M473.2,328.7V333.7M472.3,328.7h1.8M472.3,333.7h1.8M477.6,327.7V332.7M476.7,327.7h1.8M476.7,332.7h1.8M481.9,327.9V332.9M481.0,327.9h1.8M481.0,332.9h1.8M486.2,328.6V333.6M485.3,328.6h1.8M485.3,333.6h1.8M490.6,325.4V330.4M489.7,325.4h1.8M489.7,330.4h1.8M494.9,324.3V329.3M494.0,324.3h1.8M494.0,329.3h1.8M499.2,325.9V330.9M498.3,325.9h1.8M498.3,330.9h1.8M503.6,327.5V332.5M502.7,327.5h1.8M502.7,332.5h1.8M507.9,329.0V334.0M507.0,329.0h1.8M507.0,334.0h1.8M512.2,328.7V333.7M511.3,328.7h1.8M511.3,333.7h1.8M516.6,327.1V332.1M515.7,327.1h1.8M515.7,332.1h1.8M520.9,325.2V330.2M520.0,325.2h1.8M520.0,330.2h1.8M525.2,324.3V329.3M524.3,324.3h1.8M524.3,329.3h1.8M529.6,324.3V329.3M528.7,324.3h1.8M528.7,329.3h1.8M533.9,325.3V330.3M533.0,325.3h1.8M533.0,330.3h1.8M538.2,327.3V332.3M537.3,327.3h1.8M537.3,332.3h1.8M542.6,327.0V332.0M541.7,327.0h1.8M541.7,332.0h1.8M546.9,326.3V331.3M546.0,326.3h1.8M546.0,331.3h1.8" stroke="#444" stroke-width="0.5" fill="none" opacity="0.35"/>
<polyline points="364.9,328.5 369.2,330.6 373.5,331.7 377.9,332.4 382.2,333.1 386.5,333.6 390.9,334.9 395.2,334.6 399.5,330.4 403.9,331.7 408.2,335.1 412.5,333.1 416.9,332.0 421.2,331.6 425.5,331.1 429.9,332.0 434.2,332.4 438.5,333.4 442.9,332.2 447.2,330.7 451.5,330.0 455.9,329.3 460.2,328.9 464.5,328.7 468.9,331.2 473.2,331.2 477.6,330.2 481.9,330.4 486.2,331.1 490.6,327.9 494.9,326.8 499.2,328.4 503.6,330.0 507.9,331.5 512.2,331.2 516.6,329.6 520.9,327.7 525.2,326.8 529.6,326.8 533.9,327.8 538.2,329.8 542.6,329.5 546.9,328.8" fill="none" stroke="#dc00dc" stroke-width="2.2" stroke-linejoin="round" stroke-linecap="round" />
<path d="M364.9,250.8V267.8M363.7,250.8h2.4M363.7,267.8h2.4M369.2,249.4V268.4M368.0,249.4h2.4M368.0,268.4h2.4M373.5,247.5V262.5M372.3,247.5h2.4M372.3,262.5h2.4M377.9,249.7V266.7M376.7,249.7h2.4M376.7,266.7h2.4M382.2,251.5V270.5M381.0,251.5h2.4M381.0,270.5h2.4M386.5,249.1V263.9M385.3,249.1h2.4M385.3,263.9h2.4M390.9,248.0V265.0M389.7,248.0h2.4M389.7,265.0h2.4M395.2,245.1V264.1M394.0,245.1h2.4M394.0,264.1h2.4M399.5,249.8V264.6M398.3,249.8h2.4M398.3,264.6h2.4M403.9,247.9V265.1M402.7,247.9h2.4M402.7,265.1h2.4M408.2,244.9V263.9M407.0,244.9h2.4M407.0,263.9h2.4M412.5,259.4V274.2M411.3,259.4h2.4M411.3,274.2h2.4M416.9,260.0V277.2M415.7,260.0h2.4M415.7,277.2h2.4M421.2,256.9V275.9M420.0,256.9h2.4M420.0,275.9h2.4M425.5,259.9V274.7M424.3,259.9h2.4M424.3,274.7h2.4M429.9,255.0V272.2M428.7,255.0h2.4M428.7,272.2h2.4M434.2,257.8V276.8M433.0,257.8h2.4M433.0,276.8h2.4M438.5,259.0V273.8M437.3,259.0h2.4M437.3,273.8h2.4M442.9,257.8V275.0M441.7,257.8h2.4M441.7,275.0h2.4M447.2,257.8V276.8M446.0,257.8h2.4M446.0,276.8h2.4M451.5,260.5V275.3M450.3,260.5h2.4M450.3,275.3h2.4M455.9,259.4V276.6M454.7,259.4h2.4M454.7,276.6h2.4M460.2,258.8V277.8M459.0,258.8h2.4M459.0,277.8h2.4M464.5,258.6V273.4M463.3,258.6h2.4M463.3,273.4h2.4M468.9,256.1V273.5M467.7,256.1h2.4M467.7,273.5h2.4M473.2,259.3V278.1M472.0,259.3h2.4M472.0,278.1h2.4M477.6,258.7V273.5M476.4,258.7h2.4M476.4,273.5h2.4M481.9,256.9V274.3M480.7,256.9h2.4M480.7,274.3h2.4M486.2,257.9V276.7M485.0,257.9h2.4M485.0,276.7h2.4M490.6,261.3V276.1M489.4,261.3h2.4M489.4,276.1h2.4M494.9,258.2V275.6M493.7,258.2h2.4M493.7,275.6h2.4M499.2,257.3V276.1M498.0,257.3h2.4M498.0,276.1h2.4M503.6,258.5V273.3M502.4,258.5h2.4M502.4,273.3h2.4M507.9,257.4V274.8M506.7,257.4h2.4M506.7,274.8h2.4M512.2,253.2V272.0M511.0,253.2h2.4M511.0,272.0h2.4M516.6,256.6V271.4M515.4,256.6h2.4M515.4,271.4h2.4M520.9,253.9V271.3M519.7,253.9h2.4M519.7,271.3h2.4M525.2,256.7V275.5M524.0,256.7h2.4M524.0,275.5h2.4M529.6,256.9V271.7M528.4,256.9h2.4M528.4,271.7h2.4M533.9,255.5V273.1M532.7,255.5h2.4M532.7,273.1h2.4M538.2,253.2V272.0M537.0,253.2h2.4M537.0,272.0h2.4M542.6,257.2V272.0M541.4,257.2h2.4M541.4,272.0h2.4M546.9,256.9V274.5M545.7,256.9h2.4M545.7,274.5h2.4" stroke="#777" stroke-width="0.6" fill="none" opacity="0.75"/>
<polyline points="364.9,259.3 369.2,258.9 373.5,255.0 377.9,258.2 382.2,261.0 386.5,256.5 390.9,256.5 395.2,254.6 399.5,257.2 403.9,256.5 408.2,254.4 412.5,266.8 416.9,268.6 421.2,266.4 425.5,267.3 429.9,263.6 434.2,267.3 438.5,266.4 442.9,266.4 447.2,267.3 451.5,267.9 455.9,268.0 460.2,268.3 464.5,266.0 468.9,264.8 473.2,268.7 477.6,266.1 481.9,265.6 486.2,267.3 490.6,268.7 494.9,266.9 499.2,266.7 503.6,265.9 507.9,266.1 512.2,262.6 516.6,264.0 520.9,262.6 525.2,266.1 529.6,264.3 533.9,264.3 538.2,262.6 542.6,264.6 546.9,265.7" fill="none" stroke="#5a5a5a" stroke-width="2.4" stroke-linejoin="round" stroke-linecap="round" />
<path d="M364.9,213.9V232.9M363.7,213.9h2.4M363.7,232.9h2.4M369.2,211.2V233.0M368.0,211.2h2.4M368.0,233.0h2.4M373.5,201.9V219.1M372.3,201.9h2.4M372.3,219.1h2.4M377.9,213.0V230.4M376.7,213.0h2.4M376.7,230.4h2.4M382.2,225.7V247.7M381.0,225.7h2.4M381.0,247.7h2.4M386.5,212.3V231.1M385.3,212.3h2.4M385.3,231.1h2.4M390.9,225.4V241.6M389.7,225.4h2.4M389.7,241.6h2.4M395.2,215.5V236.5M394.0,215.5h2.4M394.0,236.5h2.4M399.5,226.5V246.9M398.3,226.5h2.4M398.3,246.9h2.4M403.9,224.0V240.0M402.7,224.0h2.4M402.7,240.0h2.4M408.2,217.3V236.7M407.0,217.3h2.4M407.0,236.7h2.4M412.5,233.5V255.1M411.3,233.5h2.4M411.3,255.1h2.4M416.9,226.2V243.0M415.7,226.2h2.4M415.7,243.0h2.4M421.2,225.7V243.5M420.0,225.7h2.4M420.0,243.5h2.4M425.5,234.3V256.3M424.3,234.3h2.4M424.3,256.3h2.4M429.9,212.9V231.3M428.7,212.9h2.4M428.7,231.3h2.4M434.2,231.8V248.2M433.0,231.8h2.4M433.0,248.2h2.4M438.5,221.7V243.1M437.3,221.7h2.4M437.3,243.1h2.4M442.9,226.7V246.7M441.7,226.7h2.4M441.7,246.7h2.4M447.2,224.4V240.4M446.0,224.4h2.4M446.0,240.4h2.4M451.5,230.1V249.9M450.3,230.1h2.4M450.3,249.9h2.4M455.9,224.7V246.1M454.7,224.7h2.4M454.7,246.1h2.4M460.2,227.4V244.0M459.0,227.4h2.4M459.0,244.0h2.4M464.5,215.1V233.3M463.3,215.1h2.4M463.3,233.3h2.4M468.9,222.4V244.4M467.7,222.4h2.4M467.7,244.4h2.4M473.2,227.7V245.5M472.0,227.7h2.4M472.0,245.5h2.4M477.6,225.9V242.7M476.4,225.9h2.4M476.4,242.7h2.4M481.9,218.9V240.5M480.7,218.9h2.4M480.7,240.5h2.4M486.2,225.9V245.5M485.0,225.9h2.4M485.0,245.5h2.4M490.6,226.8V242.8M489.4,226.8h2.4M489.4,242.8h2.4M494.9,215.4V235.8M493.7,215.4h2.4M493.7,235.8h2.4M499.2,222.3V243.5M498.0,222.3h2.4M498.0,243.5h2.4M503.6,216.5V232.9M502.4,216.5h2.4M502.4,232.9h2.4M507.9,226.4V245.0M506.7,226.4h2.4M506.7,245.0h2.4M512.2,219.0V241.0M511.0,219.0h2.4M511.0,241.0h2.4M516.6,219.1V236.5M515.4,219.1h2.4M515.4,236.5h2.4M520.9,223.0V240.0M519.7,223.0h2.4M519.7,240.0h2.4M525.2,221.6V243.4M524.0,221.6h2.4M524.0,243.4h2.4M529.6,225.9V245.1M528.4,225.9h2.4M528.4,245.1h2.4M533.9,223.9V240.1M532.7,223.9h2.4M532.7,240.1h2.4M538.2,218.7V239.3M537.0,218.7h2.4M537.0,239.3h2.4M542.6,224.6V245.4M541.4,224.6h2.4M541.4,245.4h2.4M546.9,227.4V243.6M545.7,227.4h2.4M545.7,243.6h2.4" stroke="#777" stroke-width="0.6" fill="none" opacity="0.75"/>
<polyline points="364.9,223.4 369.2,222.1 373.5,210.5 377.9,221.7 382.2,236.7 386.5,221.7 390.9,233.5 395.2,226.0 399.5,236.7 403.9,232.0 408.2,227.0 412.5,244.3 416.9,234.6 421.2,234.6 425.5,245.3 429.9,222.1 434.2,240.0 438.5,232.4 442.9,236.7 447.2,232.4 451.5,240.0 455.9,235.4 460.2,235.7 464.5,224.2 468.9,233.4 473.2,236.6 477.6,234.3 481.9,229.7 486.2,235.7 490.6,234.8 494.9,225.6 499.2,232.9 503.6,224.7 507.9,235.7 512.2,230.0 516.6,227.8 520.9,231.5 525.2,232.5 529.6,235.5 533.9,232.0 538.2,229.0 542.6,235.0 546.9,235.5" fill="none" stroke="#05eeee" stroke-width="2.6" stroke-linejoin="round" stroke-linecap="round" />
<text transform="translate(0.3,14.3) scale(0.79,1)" class="s">(a)</text>
<text transform="translate(292.8,14.3) scale(0.79,1)" class="s">(b)</text>
<text transform="translate(3.6,203.7) scale(0.79,1)" class="s">(c)</text>
<text transform="translate(293.8,206.3) scale(0.79,1)" class="s">(d)</text>
<text transform="translate(18.6,79.2) rotate(-90)" class="yl" text-anchor="middle">ε'</text>
<text transform="translate(306,83.3) rotate(-90)" class="yl" text-anchor="middle">ε''</text>
<text transform="translate(19.2,270.6) rotate(-90)" class="yl" text-anchor="middle">μ'</text>
<text transform="translate(309,270.2) rotate(-90)" class="yl" text-anchor="middle">μ''</text>
<line x1="588" y1="26.2" x2="625.7" y2="26.2" stroke="#0008d0" stroke-width="2"/>
<text x="632" y="31.8" class="lg">02.00%</text>
<line x1="588" y1="51.8" x2="625.7" y2="51.8" stroke="#ea0000" stroke-width="2"/>
<text x="632" y="57.4" class="lg">04.00%</text>
<line x1="588" y1="77.4" x2="625.7" y2="77.4" stroke="#f88008" stroke-width="2"/>
<text x="632" y="83.0" class="lg">06.19%</text>
<line x1="588" y1="102.9" x2="625.7" y2="102.9" stroke="#969b0a" stroke-width="2"/>
<text x="632" y="108.5" class="lg">08.09%</text>
<line x1="588" y1="128.5" x2="625.7" y2="128.5" stroke="#10b014" stroke-width="2"/>
<text x="632" y="134.1" class="lg">10.19%</text>
<line x1="588" y1="154.1" x2="625.7" y2="154.1" stroke="#0aafaf" stroke-width="2"/>
<text x="632" y="159.7" class="lg">15.09%</text>
<line x1="588" y1="179.7" x2="625.7" y2="179.7" stroke="#5080f5" stroke-width="2"/>
<text x="632" y="185.3" class="lg">17.48%</text>
<line x1="588" y1="205.3" x2="625.7" y2="205.3" stroke="#05f014" stroke-width="2"/>
<text x="632" y="210.9" class="lg">20.06%</text>
<line x1="588" y1="230.8" x2="625.7" y2="230.8" stroke="#7d4b05" stroke-width="2"/>
<text x="632" y="236.4" class="lg">21.30%</text>
<line x1="588" y1="256.4" x2="625.7" y2="256.4" stroke="#872de1" stroke-width="2"/>
<text x="632" y="262.0" class="lg">22.81%</text>
<line x1="588" y1="282.0" x2="625.7" y2="282.0" stroke="#5a5a5a" stroke-width="2"/>
<text x="632" y="287.6" class="lg">23.96%</text>
<line x1="588" y1="307.6" x2="625.7" y2="307.6" stroke="#05eeee" stroke-width="2"/>
<text x="632" y="313.2" class="lg">25.01%</text>
<line x1="588" y1="333.2" x2="625.7" y2="333.2" stroke="#dc00dc" stroke-width="2"/>
<text x="632" y="338.8" class="lg">27.04%</text>
</svg></body></html>
